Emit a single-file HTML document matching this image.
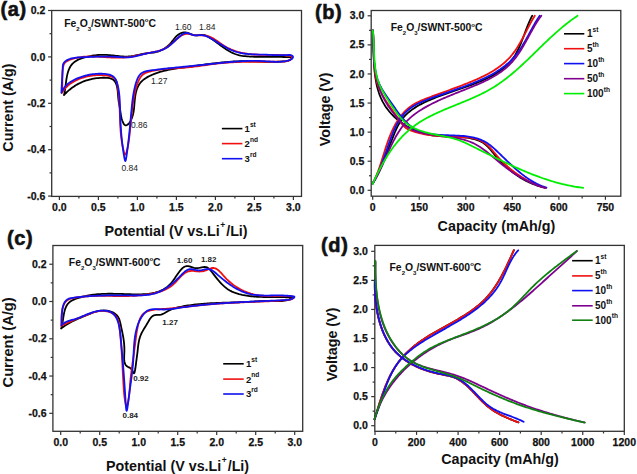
<!DOCTYPE html>
<html><head><meta charset="utf-8"><style>
html,body{margin:0;padding:0;background:#fff;width:637px;height:474px;overflow:hidden}
svg{display:block}
text{font-family:"Liberation Sans", sans-serif;fill:#111}
.tk{font-size:10.5px;font-weight:bold;stroke:#111;stroke-width:0.25px}
.an{font-size:8.5px;fill:#222}
.anb{font-size:8px;font-weight:bold;fill:#222}
.fe{font-size:10.4px;font-weight:bold}
.sub{font-size:6px}
.deg{font-size:6px}
.lg{font-size:10.2px;font-weight:bold}
.sup{font-size:6.6px}
.pl{font-size:20px;font-weight:bold;stroke:#111;stroke-width:0.6px;letter-spacing:0.6px}
.at{font-size:14.3px;font-weight:bold}
.asup{font-size:8.5px}
</style></head><body>
<svg width="637" height="474" viewBox="0 0 637 474">
<rect width="637" height="474" fill="#fff"/>
<rect x="51.7" y="10.5" width="249.8" height="185.9" fill="none" stroke="#333" stroke-width="1.3"/>
<line x1="59.40" y1="196.4" x2="59.40" y2="200.0" stroke="#333" stroke-width="1.2"/>
<line x1="98.40" y1="196.4" x2="98.40" y2="200.0" stroke="#333" stroke-width="1.2"/>
<line x1="137.40" y1="196.4" x2="137.40" y2="200.0" stroke="#333" stroke-width="1.2"/>
<line x1="176.40" y1="196.4" x2="176.40" y2="200.0" stroke="#333" stroke-width="1.2"/>
<line x1="215.40" y1="196.4" x2="215.40" y2="200.0" stroke="#333" stroke-width="1.2"/>
<line x1="254.40" y1="196.4" x2="254.40" y2="200.0" stroke="#333" stroke-width="1.2"/>
<line x1="293.40" y1="196.4" x2="293.40" y2="200.0" stroke="#333" stroke-width="1.2"/>
<line x1="78.90" y1="196.4" x2="78.90" y2="198.6" stroke="#333" stroke-width="1.2"/>
<line x1="117.90" y1="196.4" x2="117.90" y2="198.6" stroke="#333" stroke-width="1.2"/>
<line x1="156.90" y1="196.4" x2="156.90" y2="198.6" stroke="#333" stroke-width="1.2"/>
<line x1="195.90" y1="196.4" x2="195.90" y2="198.6" stroke="#333" stroke-width="1.2"/>
<line x1="234.90" y1="196.4" x2="234.90" y2="198.6" stroke="#333" stroke-width="1.2"/>
<line x1="273.90" y1="196.4" x2="273.90" y2="198.6" stroke="#333" stroke-width="1.2"/>
<text x="59.40" y="211.0" text-anchor="middle" class="tk">0.0</text>
<text x="98.40" y="211.0" text-anchor="middle" class="tk">0.5</text>
<text x="137.40" y="211.0" text-anchor="middle" class="tk">1.0</text>
<text x="176.40" y="211.0" text-anchor="middle" class="tk">1.5</text>
<text x="215.40" y="211.0" text-anchor="middle" class="tk">2.0</text>
<text x="254.40" y="211.0" text-anchor="middle" class="tk">2.5</text>
<text x="293.40" y="211.0" text-anchor="middle" class="tk">3.0</text>
<line x1="51.7" y1="10.50" x2="48.1" y2="10.50" stroke="#333" stroke-width="1.2"/>
<line x1="51.7" y1="56.90" x2="48.1" y2="56.90" stroke="#333" stroke-width="1.2"/>
<line x1="51.7" y1="103.30" x2="48.1" y2="103.30" stroke="#333" stroke-width="1.2"/>
<line x1="51.7" y1="149.70" x2="48.1" y2="149.70" stroke="#333" stroke-width="1.2"/>
<line x1="51.7" y1="196.10" x2="48.1" y2="196.10" stroke="#333" stroke-width="1.2"/>
<line x1="51.7" y1="33.70" x2="49.5" y2="33.70" stroke="#333" stroke-width="1.2"/>
<line x1="51.7" y1="80.10" x2="49.5" y2="80.10" stroke="#333" stroke-width="1.2"/>
<line x1="51.7" y1="126.50" x2="49.5" y2="126.50" stroke="#333" stroke-width="1.2"/>
<line x1="51.7" y1="172.90" x2="49.5" y2="172.90" stroke="#333" stroke-width="1.2"/>
<text x="45.3" y="14.10" text-anchor="end" class="tk">0.2</text>
<text x="45.3" y="60.50" text-anchor="end" class="tk">0.0</text>
<text x="45.3" y="106.90" text-anchor="end" class="tk">-0.2</text>
<text x="45.3" y="153.30" text-anchor="end" class="tk">-0.4</text>
<text x="45.3" y="199.70" text-anchor="end" class="tk">-0.6</text>
<path d="M63.98,94.87 L64.31,93.53 L64.61,92.15 L64.87,90.72 L65.10,89.25 L65.31,87.75 L65.51,86.22 L65.71,84.67 L65.91,83.11 L66.11,81.55 L66.33,79.98 L66.57,78.42 L66.84,76.88 L67.14,75.35 L67.49,73.85 L67.89,72.38 L68.34,70.96 L68.85,69.57 L69.44,68.24 L70.10,66.97 L70.85,65.77 L71.68,64.63 L72.61,63.58 L73.65,62.61 L74.79,61.72 L76.01,60.91 L77.32,60.18 L78.69,59.51 L80.11,58.91 L81.58,58.36 L83.08,57.87 L84.61,57.42 L86.14,57.02 L87.67,56.66 L89.20,56.32 L90.70,56.02 L92.20,55.75 L93.69,55.51 L95.17,55.30 L96.64,55.13 L98.11,54.99 L99.58,54.89 L101.05,54.82 L102.53,54.80 L104.01,54.81 L105.50,54.86 L106.99,54.94 L108.49,55.06 L110.00,55.19 L111.51,55.35 L113.02,55.51 L114.54,55.69 L116.06,55.86 L117.58,56.02 L119.09,56.17 L120.61,56.31 L122.12,56.42 L123.63,56.50 L125.14,56.54 L126.64,56.54 L128.13,56.50 L129.62,56.40 L131.10,56.24 L132.57,56.03 L134.03,55.78 L135.49,55.49 L136.95,55.18 L138.42,54.86 L139.89,54.53 L141.36,54.22 L142.84,53.92 L144.34,53.66 L145.85,53.43 L147.36,53.23 L148.89,53.06 L150.41,52.89 L151.93,52.71 L153.44,52.50 L154.93,52.25 L156.40,51.94 L157.85,51.56 L159.26,51.10 L160.63,50.54 L161.98,49.91 L163.28,49.19 L164.55,48.41 L165.78,47.55 L166.97,46.63 L168.12,45.65 L169.23,44.61 L170.30,43.52 L171.33,42.38 L172.31,41.20 L173.27,40.00 L174.21,38.79 L175.18,37.60 L176.20,36.47 L177.30,35.43 L178.50,34.49 L179.77,33.69 L181.10,33.05 L182.48,32.59 L183.89,32.35 L185.32,32.35 L186.74,32.60 L188.15,33.05 L189.57,33.62 L191.00,34.22 L192.45,34.75 L193.93,35.12 L195.43,35.29 L196.95,35.28 L198.47,35.18 L200.00,35.03 L201.50,34.93 L202.97,34.93 L204.41,35.10 L205.79,35.51 L207.12,36.14 L208.42,36.89 L209.71,37.67 L210.99,38.49 L212.25,39.34 L213.50,40.21 L214.75,41.10 L215.99,42.00 L217.23,42.92 L218.47,43.83 L219.70,44.75 L220.94,45.66 L222.18,46.56 L223.42,47.45 L224.67,48.32 L225.93,49.17 L227.21,49.98 L228.49,50.76 L229.79,51.51 L231.10,52.21 L232.43,52.87 L233.78,53.47 L235.15,54.02 L236.54,54.50 L237.96,54.92 L239.40,55.28 L240.86,55.59 L242.33,55.84 L243.82,56.05 L245.33,56.22 L246.84,56.36 L248.36,56.47 L249.88,56.56 L251.41,56.63 L252.94,56.69 L254.46,56.74 L255.98,56.78 L257.51,56.82 L259.03,56.84 L260.55,56.86 L262.07,56.88 L263.60,56.89 L265.12,56.89 L266.63,56.90 L268.15,56.90 L269.67,56.90 L271.19,56.90 L272.70,56.90 L274.22,56.90 L275.73,56.90 L277.25,56.91 L278.76,56.92 L280.28,56.93 L281.79,56.95 L283.30,56.98 L284.81,57.01 L286.32,57.05 L287.83,57.10 L289.34,57.16 L290.74,57.28 L291.66,57.59 L291.72,58.24 L291.02,59.11 L289.86,59.93 L288.50,60.53 L287.02,60.92 L285.47,61.16 L283.89,61.33 L282.31,61.47 L280.74,61.59 L279.18,61.68 L277.62,61.75 L276.07,61.81 L274.53,61.85 L272.99,61.87 L271.46,61.88 L269.93,61.87 L268.40,61.85 L266.88,61.82 L265.36,61.79 L263.85,61.74 L262.34,61.70 L260.83,61.64 L259.33,61.59 L257.82,61.53 L256.32,61.47 L254.83,61.42 L253.33,61.36 L251.84,61.32 L250.34,61.27 L248.85,61.24 L247.36,61.21 L245.87,61.20 L244.37,61.20 L242.88,61.21 L241.39,61.23 L239.90,61.26 L238.40,61.31 L236.91,61.36 L235.42,61.43 L233.92,61.51 L232.43,61.59 L230.94,61.69 L229.44,61.80 L227.95,61.91 L226.45,62.04 L224.96,62.17 L223.46,62.31 L221.97,62.45 L220.47,62.61 L218.97,62.77 L217.48,62.93 L215.98,63.10 L214.48,63.28 L212.99,63.46 L211.49,63.65 L209.99,63.84 L208.49,64.03 L207.00,64.23 L205.50,64.43 L204.00,64.63 L202.50,64.83 L201.00,65.04 L199.50,65.25 L198.00,65.45 L196.50,65.66 L195.00,65.87 L193.49,66.08 L191.99,66.29 L190.49,66.50 L188.99,66.70 L187.48,66.91 L185.98,67.11 L184.48,67.31 L182.98,67.52 L181.47,67.73 L179.97,67.94 L178.48,68.15 L176.98,68.38 L175.49,68.61 L174.00,68.85 L172.51,69.11 L171.03,69.38 L169.55,69.66 L168.08,69.96 L166.61,70.27 L165.15,70.61 L163.70,70.96 L162.25,71.34 L160.81,71.74 L159.37,72.16 L157.95,72.62 L156.53,73.09 L155.12,73.60 L153.72,74.14 L152.33,74.71 L150.95,75.32 L149.59,75.96 L148.25,76.64 L146.95,77.38 L145.68,78.16 L144.46,79.00 L143.29,79.90 L142.18,80.87 L141.15,81.91 L140.19,83.03 L139.31,84.22 L138.53,85.51 L137.84,86.87 L137.23,88.30 L136.71,89.78 L136.26,91.31 L135.87,92.86 L135.55,94.43 L135.27,96.00 L135.05,97.56 L134.86,99.09 L134.71,100.60 L134.58,102.08 L134.46,103.55 L134.35,105.00 L134.22,106.45 L134.08,107.89 L133.92,109.33 L133.72,110.77 L133.47,112.23 L133.17,113.70 L132.80,115.19 L132.36,116.70 L131.84,118.22 L131.21,119.73 L130.48,121.17 L129.62,122.52 L128.63,123.73 L127.52,124.72 L126.37,125.31 L125.28,125.31 L124.32,124.63 L123.49,123.44 L122.79,121.98 L122.22,120.45 L121.75,118.91 L121.38,117.37 L121.07,115.83 L120.81,114.31 L120.59,112.80 L120.37,111.31 L120.15,109.84 L119.91,108.40 L119.64,106.98 L119.37,105.57 L119.11,104.14 L118.86,102.69 L118.63,101.21 L118.44,99.68 L118.28,98.09 L118.14,96.47 L118.01,94.83 L117.88,93.18 L117.73,91.54 L117.55,89.93 L117.32,88.36 L117.03,86.84 L116.66,85.39 L116.21,84.03 L115.65,82.77 L114.98,81.63 L114.17,80.62 L113.23,79.76 L112.12,79.06 L110.86,78.54 L109.45,78.17 L107.94,77.93 L106.35,77.80 L104.72,77.75 L103.08,77.76 L101.46,77.82 L99.86,77.91 L98.28,78.04 L96.72,78.21 L95.19,78.41 L93.67,78.66 L92.17,78.94 L90.70,79.26 L89.24,79.62 L87.81,80.02 L86.39,80.46 L84.99,80.93 L83.61,81.44 L82.25,82.00 L80.91,82.59 L79.59,83.22 L78.29,83.89 L77.00,84.60 L75.73,85.35 L74.48,86.13 L73.25,86.96 L72.03,87.83 L70.83,88.74 L69.65,89.68 L68.48,90.67 L67.33,91.69 L66.19,92.76 L65.08,93.87 L63.97,95.01" fill="none" stroke="#000" stroke-width="1.8" stroke-linejoin="round" stroke-linecap="round"/>
<path d="M61.79,92.99 L61.98,91.50 L62.12,90.01 L62.22,88.51 L62.29,87.02 L62.32,85.52 L62.34,84.02 L62.34,82.52 L62.34,81.02 L62.33,79.51 L62.33,78.00 L62.34,76.49 L62.37,74.96 L62.43,73.44 L62.52,71.91 L62.65,70.37 L62.83,68.83 L63.07,67.28 L63.39,65.75 L63.87,64.33 L64.58,63.09 L65.59,62.10 L66.80,61.31 L68.12,60.63 L69.46,60.02 L70.83,59.48 L72.22,58.98 L73.63,58.54 L75.06,58.15 L76.50,57.82 L77.96,57.52 L79.43,57.27 L80.92,57.06 L82.42,56.89 L83.93,56.76 L85.44,56.66 L86.97,56.58 L88.50,56.54 L90.04,56.52 L91.58,56.53 L93.12,56.55 L94.67,56.59 L96.21,56.65 L97.75,56.72 L99.30,56.80 L100.83,56.88 L102.36,56.97 L103.89,57.07 L105.41,57.16 L106.93,57.25 L108.44,57.34 L109.95,57.43 L111.46,57.50 L112.96,57.57 L114.46,57.62 L115.95,57.66 L117.45,57.68 L118.93,57.68 L120.42,57.67 L121.90,57.63 L123.38,57.56 L124.85,57.47 L126.32,57.35 L127.79,57.20 L129.26,57.02 L130.73,56.80 L132.19,56.55 L133.65,56.27 L135.11,55.96 L136.57,55.64 L138.04,55.31 L139.50,54.97 L140.97,54.62 L142.45,54.28 L143.93,53.95 L145.42,53.64 L146.91,53.34 L148.41,53.05 L149.91,52.77 L151.40,52.49 L152.89,52.19 L154.38,51.89 L155.85,51.56 L157.31,51.20 L158.75,50.80 L160.17,50.37 L161.57,49.88 L162.94,49.34 L164.28,48.73 L165.59,48.06 L166.86,47.31 L168.10,46.48 L169.31,45.58 L170.49,44.63 L171.65,43.63 L172.81,42.61 L173.95,41.57 L175.10,40.53 L176.26,39.51 L177.43,38.51 L178.62,37.55 L179.84,36.64 L181.09,35.81 L182.38,35.07 L183.70,34.46 L185.05,34.02 L186.43,33.77 L187.83,33.76 L189.25,33.97 L190.70,34.30 L192.16,34.68 L193.65,35.00 L195.16,35.20 L196.68,35.31 L198.20,35.35 L199.73,35.36 L201.25,35.36 L202.75,35.39 L204.24,35.48 L205.69,35.65 L207.12,35.93 L208.51,36.33 L209.87,36.84 L211.21,37.43 L212.53,38.10 L213.83,38.84 L215.11,39.64 L216.39,40.48 L217.66,41.34 L218.93,42.23 L220.19,43.13 L221.46,44.02 L222.74,44.89 L224.03,45.74 L225.34,46.54 L226.66,47.30 L228.00,48.01 L229.36,48.68 L230.73,49.30 L232.11,49.88 L233.51,50.42 L234.92,50.92 L236.34,51.38 L237.78,51.81 L239.22,52.20 L240.68,52.56 L242.14,52.88 L243.61,53.18 L245.08,53.45 L246.57,53.68 L248.06,53.90 L249.55,54.08 L251.05,54.25 L252.55,54.39 L254.05,54.51 L255.55,54.62 L257.06,54.70 L258.56,54.77 L260.06,54.83 L261.56,54.87 L263.06,54.90 L264.56,54.92 L266.05,54.93 L267.54,54.94 L269.03,54.94 L270.52,54.94 L272.01,54.94 L273.51,54.94 L275.01,54.95 L276.53,54.97 L278.05,55.00 L279.58,55.04 L281.13,55.10 L282.69,55.17 L284.27,55.27 L285.87,55.39 L287.48,55.53 L289.08,55.71 L290.51,55.98 L291.59,56.39 L292.13,56.99 L292.01,57.83 L291.30,58.79 L290.17,59.76 L288.79,60.59 L287.30,61.16 L285.79,61.45 L284.27,61.57 L282.74,61.62 L281.22,61.65 L279.69,61.67 L278.17,61.69 L276.65,61.71 L275.13,61.72 L273.61,61.73 L272.09,61.74 L270.58,61.75 L269.07,61.75 L267.55,61.76 L266.04,61.76 L264.53,61.76 L263.02,61.76 L261.51,61.76 L260.01,61.76 L258.50,61.76 L257.00,61.76 L255.49,61.77 L253.99,61.77 L252.49,61.78 L250.99,61.79 L249.49,61.81 L247.99,61.82 L246.49,61.84 L244.99,61.87 L243.49,61.90 L242.00,61.93 L240.50,61.97 L239.00,62.02 L237.51,62.07 L236.01,62.13 L234.52,62.20 L233.03,62.27 L231.53,62.35 L230.04,62.44 L228.54,62.53 L227.05,62.64 L225.56,62.75 L224.06,62.87 L222.57,63.01 L221.08,63.15 L219.59,63.31 L218.09,63.47 L216.60,63.64 L215.11,63.83 L213.61,64.02 L212.12,64.21 L210.62,64.42 L209.13,64.62 L207.64,64.83 L206.14,65.04 L204.65,65.25 L203.15,65.46 L201.66,65.67 L200.16,65.88 L198.67,66.08 L197.17,66.28 L195.68,66.47 L194.18,66.66 L192.68,66.84 L191.19,67.01 L189.69,67.17 L188.19,67.32 L186.69,67.45 L185.19,67.58 L183.70,67.69 L182.20,67.80 L180.70,67.91 L179.20,68.00 L177.70,68.10 L176.20,68.19 L174.71,68.29 L173.21,68.39 L171.71,68.49 L170.21,68.60 L168.72,68.71 L167.22,68.84 L165.73,68.97 L164.23,69.12 L162.74,69.28 L161.25,69.46 L159.76,69.65 L158.27,69.87 L156.78,70.10 L155.29,70.36 L153.80,70.64 L152.32,70.95 L150.84,71.28 L149.36,71.65 L147.89,72.05 L146.46,72.54 L145.10,73.12 L143.82,73.85 L142.66,74.74 L141.63,75.81 L140.71,77.01 L139.88,78.31 L139.14,79.67 L138.46,81.06 L137.85,82.46 L137.28,83.87 L136.77,85.30 L136.30,86.73 L135.88,88.18 L135.49,89.63 L135.14,91.09 L134.81,92.55 L134.51,94.02 L134.23,95.50 L133.96,96.97 L133.71,98.45 L133.47,99.93 L133.24,101.41 L133.02,102.90 L132.81,104.38 L132.61,105.87 L132.43,107.36 L132.24,108.85 L132.07,110.34 L131.90,111.83 L131.74,113.32 L131.58,114.82 L131.43,116.31 L131.28,117.81 L131.13,119.30 L130.99,120.80 L130.84,122.29 L130.70,123.79 L130.55,125.29 L130.41,126.78 L130.26,128.28 L130.11,129.77 L129.95,131.27 L129.79,132.76 L129.63,134.25 L129.46,135.75 L129.28,137.24 L129.09,138.74 L128.88,140.24 L128.66,141.75 L128.42,143.27 L128.16,144.80 L127.86,146.35 L127.54,147.92 L127.19,149.50 L126.80,151.11 L126.38,152.64 L125.93,153.89 L125.48,154.62 L125.02,154.63 L124.58,153.92 L124.15,152.71 L123.73,151.21 L123.35,149.62 L122.99,148.03 L122.67,146.46 L122.37,144.89 L122.09,143.33 L121.84,141.77 L121.60,140.23 L121.40,138.68 L121.21,137.15 L121.03,135.62 L120.88,134.09 L120.74,132.57 L120.62,131.06 L120.51,129.55 L120.41,128.04 L120.33,126.54 L120.25,125.05 L120.18,123.55 L120.12,122.06 L120.06,120.57 L120.01,119.09 L119.96,117.61 L119.91,116.13 L119.87,114.65 L119.82,113.17 L119.77,111.70 L119.72,110.22 L119.66,108.75 L119.60,107.28 L119.53,105.81 L119.45,104.33 L119.36,102.85 L119.27,101.37 L119.16,99.88 L119.04,98.39 L118.91,96.89 L118.77,95.38 L118.61,93.87 L118.43,92.34 L118.24,90.80 L118.03,89.25 L117.80,87.69 L117.55,86.12 L117.28,84.53 L116.95,82.97 L116.51,81.50 L115.92,80.18 L115.14,79.04 L114.16,78.10 L113.02,77.34 L111.74,76.74 L110.35,76.28 L108.87,75.92 L107.34,75.66 L105.78,75.47 L104.22,75.33 L102.67,75.23 L101.13,75.17 L99.59,75.14 L98.07,75.16 L96.56,75.22 L95.06,75.31 L93.57,75.45 L92.09,75.62 L90.61,75.84 L89.14,76.10 L87.69,76.39 L86.23,76.73 L84.79,77.11 L83.35,77.53 L81.92,77.99 L80.50,78.49 L79.09,79.03 L77.69,79.61 L76.31,80.24 L74.95,80.92 L73.61,81.64 L72.31,82.41 L71.04,83.23 L69.80,84.10 L68.61,85.02 L67.47,85.99 L66.37,87.02 L65.33,88.10 L64.35,89.24 L63.42,90.44 L62.57,91.69 L61.78,93.01" fill="none" stroke="#f01010" stroke-width="1.8" stroke-linejoin="round" stroke-linecap="round"/>
<path d="M61.40,92.50 L61.47,90.97 L61.55,89.46 L61.63,87.95 L61.71,86.46 L61.80,84.98 L61.89,83.51 L61.98,82.03 L62.07,80.56 L62.16,79.08 L62.25,77.60 L62.33,76.11 L62.41,74.61 L62.49,73.10 L62.56,71.58 L62.63,70.03 L62.68,68.47 L62.74,66.89 L62.89,65.34 L63.27,63.89 L63.99,62.62 L65.03,61.54 L66.28,60.63 L67.60,59.87 L68.97,59.24 L70.37,58.74 L71.81,58.33 L73.27,58.02 L74.75,57.79 L76.25,57.62 L77.76,57.50 L79.28,57.41 L80.81,57.34 L82.33,57.27 L83.85,57.21 L85.36,57.14 L86.88,57.07 L88.38,57.00 L89.89,56.94 L91.39,56.87 L92.90,56.81 L94.40,56.76 L95.90,56.70 L97.39,56.66 L98.89,56.62 L100.39,56.58 L101.89,56.56 L103.38,56.54 L104.88,56.53 L106.38,56.53 L107.88,56.55 L109.39,56.58 L110.89,56.61 L112.40,56.67 L113.91,56.73 L115.42,56.82 L116.94,56.91 L118.46,57.02 L119.97,57.12 L121.49,57.21 L123.00,57.28 L124.51,57.32 L126.02,57.34 L127.51,57.31 L129.00,57.23 L130.48,57.10 L131.95,56.90 L133.41,56.66 L134.86,56.37 L136.31,56.04 L137.76,55.69 L139.20,55.32 L140.66,54.95 L142.11,54.57 L143.58,54.20 L145.05,53.84 L146.54,53.51 L148.04,53.21 L149.54,52.91 L151.04,52.62 L152.54,52.33 L154.04,52.03 L155.52,51.71 L157.00,51.37 L158.45,51.00 L159.89,50.59 L161.30,50.13 L162.69,49.63 L164.04,49.06 L165.35,48.42 L166.63,47.71 L167.86,46.92 L169.06,46.06 L170.23,45.12 L171.37,44.14 L172.49,43.12 L173.60,42.06 L174.71,40.99 L175.83,39.91 L176.96,38.83 L178.10,37.76 L179.27,36.72 L180.47,35.72 L181.71,34.78 L182.99,33.97 L184.30,33.35 L185.63,33.00 L186.99,32.96 L188.38,33.27 L189.79,33.80 L191.23,34.41 L192.70,34.94 L194.20,35.25 L195.72,35.32 L197.26,35.25 L198.79,35.13 L200.30,35.06 L201.78,35.12 L203.24,35.32 L204.66,35.65 L206.07,36.09 L207.45,36.63 L208.81,37.25 L210.15,37.94 L211.48,38.68 L212.80,39.46 L214.11,40.26 L215.42,41.06 L216.72,41.87 L218.02,42.68 L219.31,43.49 L220.61,44.28 L221.91,45.07 L223.21,45.84 L224.52,46.59 L225.83,47.32 L227.16,48.03 L228.49,48.71 L229.83,49.36 L231.19,49.97 L232.56,50.54 L233.94,51.08 L235.34,51.56 L236.77,52.00 L238.21,52.40 L239.66,52.75 L241.13,53.05 L242.62,53.32 L244.11,53.55 L245.62,53.75 L247.13,53.92 L248.65,54.07 L250.18,54.19 L251.71,54.29 L253.24,54.37 L254.77,54.44 L256.30,54.49 L257.83,54.53 L259.35,54.57 L260.86,54.61 L262.37,54.64 L263.87,54.68 L265.36,54.72 L266.84,54.77 L268.31,54.82 L269.77,54.88 L271.24,54.93 L272.70,54.98 L274.18,55.03 L275.65,55.07 L277.14,55.11 L278.64,55.13 L280.16,55.14 L281.70,55.15 L283.25,55.13 L284.83,55.10 L286.44,55.05 L288.07,54.99 L289.67,55.01 L291.13,55.24 L292.36,55.83 L293.03,56.80 L292.74,57.98 L291.75,59.06 L290.42,59.79 L288.95,60.29 L287.44,60.69 L285.94,61.02 L284.43,61.28 L282.93,61.48 L281.42,61.63 L279.92,61.73 L278.42,61.78 L276.91,61.80 L275.41,61.78 L273.91,61.73 L272.40,61.67 L270.90,61.58 L269.40,61.49 L267.89,61.39 L266.39,61.28 L264.89,61.19 L263.38,61.10 L261.88,61.03 L260.38,60.97 L258.87,60.93 L257.37,60.90 L255.86,60.88 L254.36,60.87 L252.85,60.87 L251.35,60.88 L249.84,60.91 L248.34,60.94 L246.83,60.99 L245.33,61.04 L243.82,61.10 L242.32,61.18 L240.81,61.26 L239.31,61.34 L237.80,61.44 L236.30,61.54 L234.79,61.65 L233.29,61.77 L231.79,61.89 L230.28,62.02 L228.78,62.15 L227.28,62.29 L225.77,62.43 L224.27,62.58 L222.77,62.73 L221.27,62.88 L219.77,63.04 L218.27,63.19 L216.77,63.36 L215.27,63.52 L213.77,63.68 L212.27,63.85 L210.78,64.01 L209.28,64.18 L207.78,64.34 L206.29,64.51 L204.79,64.67 L203.30,64.83 L201.80,64.99 L200.31,65.15 L198.82,65.31 L197.33,65.46 L195.84,65.61 L194.35,65.76 L192.86,65.91 L191.37,66.05 L189.88,66.20 L188.39,66.34 L186.90,66.49 L185.41,66.63 L183.92,66.77 L182.43,66.92 L180.94,67.06 L179.45,67.20 L177.96,67.35 L176.47,67.50 L174.97,67.65 L173.48,67.80 L171.98,67.95 L170.48,68.10 L168.99,68.26 L167.49,68.42 L165.98,68.58 L164.48,68.75 L162.97,68.92 L161.46,69.09 L159.95,69.27 L158.44,69.45 L156.93,69.63 L155.41,69.83 L153.89,70.02 L152.37,70.22 L150.84,70.43 L149.31,70.65 L147.80,70.89 L146.32,71.19 L144.90,71.57 L143.55,72.06 L142.31,72.69 L141.19,73.49 L140.18,74.45 L139.29,75.55 L138.49,76.77 L137.79,78.09 L137.16,79.50 L136.60,80.97 L136.10,82.48 L135.65,84.02 L135.23,85.56 L134.85,87.10 L134.49,88.63 L134.16,90.15 L133.86,91.67 L133.58,93.18 L133.32,94.69 L133.08,96.19 L132.86,97.69 L132.66,99.18 L132.47,100.67 L132.30,102.15 L132.13,103.63 L131.98,105.11 L131.83,106.58 L131.69,108.05 L131.55,109.52 L131.41,110.98 L131.28,112.45 L131.14,113.91 L131.01,115.37 L130.88,116.82 L130.74,118.28 L130.61,119.74 L130.48,121.21 L130.34,122.67 L130.20,124.13 L130.06,125.60 L129.92,127.08 L129.78,128.56 L129.64,130.04 L129.49,131.53 L129.33,133.02 L129.18,134.52 L129.02,136.03 L128.85,137.55 L128.69,139.08 L128.51,140.61 L128.33,142.16 L128.15,143.71 L127.96,145.28 L127.76,146.86 L127.56,148.45 L127.34,150.05 L127.13,151.67 L126.90,153.30 L126.67,154.95 L126.42,156.61 L126.17,158.19 L125.91,159.55 L125.65,160.52 L125.37,160.94 L125.09,160.70 L124.80,159.86 L124.51,158.60 L124.23,157.06 L123.95,155.40 L123.69,153.75 L123.44,152.11 L123.20,150.49 L122.97,148.89 L122.75,147.29 L122.55,145.71 L122.35,144.15 L122.17,142.59 L122.00,141.05 L121.83,139.51 L121.68,137.99 L121.53,136.47 L121.39,134.96 L121.26,133.46 L121.14,131.97 L121.03,130.48 L120.92,129.00 L120.82,127.52 L120.73,126.05 L120.64,124.58 L120.56,123.11 L120.49,121.65 L120.42,120.18 L120.35,118.72 L120.29,117.25 L120.24,115.79 L120.19,114.32 L120.14,112.85 L120.09,111.38 L120.05,109.90 L120.01,108.42 L119.97,106.94 L119.92,105.45 L119.87,103.95 L119.81,102.45 L119.74,100.95 L119.66,99.44 L119.56,97.93 L119.44,96.42 L119.29,94.90 L119.12,93.37 L118.93,91.84 L118.70,90.31 L118.44,88.77 L118.14,87.23 L117.80,85.68 L117.42,84.14 L116.98,82.62 L116.45,81.17 L115.83,79.80 L115.09,78.55 L114.21,77.44 L113.18,76.51 L111.99,75.76 L110.68,75.17 L109.28,74.72 L107.80,74.38 L106.28,74.14 L104.74,73.96 L103.20,73.83 L101.68,73.75 L100.16,73.72 L98.64,73.73 L97.13,73.79 L95.63,73.89 L94.13,74.03 L92.64,74.22 L91.16,74.44 L89.68,74.70 L88.21,75.00 L86.74,75.34 L85.28,75.72 L83.82,76.12 L82.37,76.56 L80.92,77.04 L79.49,77.54 L78.06,78.08 L76.65,78.66 L75.26,79.29 L73.90,79.95 L72.57,80.67 L71.28,81.44 L70.03,82.26 L68.82,83.13 L67.67,84.07 L66.57,85.07 L65.53,86.13 L64.55,87.27 L63.64,88.47 L62.81,89.75 L62.06,91.11 L61.39,92.55" fill="none" stroke="#1010f0" stroke-width="1.8" stroke-linejoin="round" stroke-linecap="round"/>
<text x="175" y="29.8" class="an">1.60</text>
<text x="199" y="29.8" class="an">1.84</text>
<text x="151" y="84.3" class="an">1.27</text>
<text x="131" y="127.9" class="an">0.86</text>
<text x="121.5" y="171.2" class="an">0.84</text>
<text x="64.2" y="27.0" class="fe">Fe<tspan class="sub" dy="3.7">2</tspan><tspan dy="-3.7">O</tspan><tspan class="sub" dy="3.7">3</tspan><tspan dy="-3.7">/SWNT-500</tspan><tspan class="deg" dy="-4.7">o</tspan><tspan dy="4.7">C</tspan></text>
<line x1="221.9" y1="128.6" x2="242.4" y2="128.6" stroke="#000" stroke-width="1.6"/>
<text x="244.6" y="132.00" class="lg" style="font-size:9.5px">1<tspan class="sup" dy="-5.2">st</tspan></text>
<line x1="221.9" y1="143.6" x2="242.4" y2="143.6" stroke="#f01010" stroke-width="1.6"/>
<text x="244.6" y="147.00" class="lg" style="font-size:9.5px">2<tspan class="sup" dy="-5.2">nd</tspan></text>
<line x1="221.9" y1="158.7" x2="242.4" y2="158.7" stroke="#1010f0" stroke-width="1.6"/>
<text x="244.6" y="162.10" class="lg" style="font-size:9.5px">3<tspan class="sup" dy="-5.2">rd</tspan></text>
<text x="0.6" y="16.1" class="pl">(a)</text>
<text x="176.1" y="236.1" text-anchor="middle" class="at">Potential (V vs.Li<tspan class="asup" dx="0.5" dy="-7.8">+</tspan><tspan dx="0.9" dy="7.8">/Li)</tspan></text>
<text transform="translate(13.2,107.6) rotate(-90)" text-anchor="middle" class="at">Current (A/g)</text>
<rect x="371.2" y="10.5" width="249.59999999999997" height="185.7" fill="none" stroke="#333" stroke-width="1.3"/>
<line x1="372.70" y1="196.2" x2="372.70" y2="199.79999999999998" stroke="#333" stroke-width="1.2"/>
<line x1="419.25" y1="196.2" x2="419.25" y2="199.79999999999998" stroke="#333" stroke-width="1.2"/>
<line x1="465.79" y1="196.2" x2="465.79" y2="199.79999999999998" stroke="#333" stroke-width="1.2"/>
<line x1="512.34" y1="196.2" x2="512.34" y2="199.79999999999998" stroke="#333" stroke-width="1.2"/>
<line x1="558.88" y1="196.2" x2="558.88" y2="199.79999999999998" stroke="#333" stroke-width="1.2"/>
<line x1="605.42" y1="196.2" x2="605.42" y2="199.79999999999998" stroke="#333" stroke-width="1.2"/>
<line x1="395.97" y1="196.2" x2="395.97" y2="198.39999999999998" stroke="#333" stroke-width="1.2"/>
<line x1="442.52" y1="196.2" x2="442.52" y2="198.39999999999998" stroke="#333" stroke-width="1.2"/>
<line x1="489.06" y1="196.2" x2="489.06" y2="198.39999999999998" stroke="#333" stroke-width="1.2"/>
<line x1="535.61" y1="196.2" x2="535.61" y2="198.39999999999998" stroke="#333" stroke-width="1.2"/>
<line x1="582.15" y1="196.2" x2="582.15" y2="198.39999999999998" stroke="#333" stroke-width="1.2"/>
<text x="372.70" y="210.9" text-anchor="middle" class="tk">0</text>
<text x="419.25" y="210.9" text-anchor="middle" class="tk">150</text>
<text x="465.79" y="210.9" text-anchor="middle" class="tk">300</text>
<text x="512.34" y="210.9" text-anchor="middle" class="tk">450</text>
<text x="558.88" y="210.9" text-anchor="middle" class="tk">600</text>
<text x="605.42" y="210.9" text-anchor="middle" class="tk">750</text>
<line x1="371.2" y1="190.30" x2="367.59999999999997" y2="190.30" stroke="#333" stroke-width="1.2"/>
<line x1="371.2" y1="161.22" x2="367.59999999999997" y2="161.22" stroke="#333" stroke-width="1.2"/>
<line x1="371.2" y1="132.13" x2="367.59999999999997" y2="132.13" stroke="#333" stroke-width="1.2"/>
<line x1="371.2" y1="103.05" x2="367.59999999999997" y2="103.05" stroke="#333" stroke-width="1.2"/>
<line x1="371.2" y1="73.96" x2="367.59999999999997" y2="73.96" stroke="#333" stroke-width="1.2"/>
<line x1="371.2" y1="44.88" x2="367.59999999999997" y2="44.88" stroke="#333" stroke-width="1.2"/>
<line x1="371.2" y1="15.79" x2="367.59999999999997" y2="15.79" stroke="#333" stroke-width="1.2"/>
<line x1="371.2" y1="175.76" x2="369.0" y2="175.76" stroke="#333" stroke-width="1.2"/>
<line x1="371.2" y1="146.67" x2="369.0" y2="146.67" stroke="#333" stroke-width="1.2"/>
<line x1="371.2" y1="117.59" x2="369.0" y2="117.59" stroke="#333" stroke-width="1.2"/>
<line x1="371.2" y1="88.50" x2="369.0" y2="88.50" stroke="#333" stroke-width="1.2"/>
<line x1="371.2" y1="59.42" x2="369.0" y2="59.42" stroke="#333" stroke-width="1.2"/>
<line x1="371.2" y1="30.33" x2="369.0" y2="30.33" stroke="#333" stroke-width="1.2"/>
<text x="364.4" y="193.90" text-anchor="end" class="tk">0.0</text>
<text x="364.4" y="164.81" text-anchor="end" class="tk">0.5</text>
<text x="364.4" y="135.73" text-anchor="end" class="tk">1.0</text>
<text x="364.4" y="106.65" text-anchor="end" class="tk">1.5</text>
<text x="364.4" y="77.56" text-anchor="end" class="tk">2.0</text>
<text x="364.4" y="48.48" text-anchor="end" class="tk">2.5</text>
<text x="364.4" y="19.39" text-anchor="end" class="tk">3.0</text>
<path d="M372.78,30.57 L372.88,31.93 L372.97,33.32 L373.05,34.72 L373.12,36.13 L373.18,37.56 L373.24,39.00 L373.29,40.46 L373.33,41.93 L373.37,43.42 L373.41,44.91 L373.45,46.41 L373.48,47.92 L373.52,49.45 L373.55,50.98 L373.59,52.51 L373.63,54.05 L373.68,55.60 L373.73,57.15 L373.79,58.71 L373.85,60.27 L373.93,61.83 L374.01,63.39 L374.10,64.95 L374.21,66.52 L374.33,68.08 L374.46,69.64 L374.60,71.19 L374.76,72.75 L374.94,74.30 L375.13,75.84 L375.35,77.38 L375.58,78.91 L375.83,80.43 L376.11,81.95 L376.40,83.46 L376.72,84.95 L377.07,86.44 L377.44,87.91 L377.84,89.37 L378.27,90.82 L378.72,92.26 L379.20,93.68 L379.72,95.08 L380.27,96.47 L380.85,97.84 L381.46,99.19 L382.11,100.53 L382.79,101.84 L383.51,103.14 L384.26,104.41 L385.04,105.67 L385.86,106.90 L386.71,108.11 L387.58,109.31 L388.49,110.48 L389.43,111.63 L390.39,112.75 L391.38,113.86 L392.40,114.94 L393.45,116.00 L394.52,117.03 L395.62,118.05 L396.74,119.03 L397.88,120.00 L399.04,120.94 L400.23,121.85 L401.44,122.74 L402.67,123.60 L403.92,124.44 L405.19,125.25 L406.48,126.04 L407.78,126.79 L409.10,127.52 L410.44,128.23 L411.79,128.90 L413.16,129.55 L414.54,130.17 L415.94,130.76 L417.35,131.32 L418.77,131.85 L420.20,132.36 L421.64,132.83 L423.09,133.27 L424.56,133.68 L426.02,134.06 L427.50,134.41 L428.99,134.73 L430.48,135.02 L431.97,135.27 L433.47,135.50 L434.98,135.69 L436.49,135.86 L438.00,136.00 L439.52,136.12 L441.04,136.22 L442.56,136.31 L444.08,136.39 L445.61,136.45 L447.13,136.50 L448.66,136.56 L450.19,136.60 L451.72,136.65 L453.25,136.70 L454.77,136.76 L456.30,136.82 L457.83,136.90 L459.35,136.99 L460.87,137.10 L462.39,137.22 L463.90,137.37 L465.42,137.54 L466.92,137.73 L468.43,137.96 L469.93,138.22 L471.42,138.51 L472.91,138.85 L474.39,139.22 L475.87,139.63 L477.33,140.10 L478.76,140.62 L480.15,141.21 L481.50,141.86 L482.78,142.59 L484.01,143.41 L485.17,144.29 L486.28,145.23 L487.35,146.24 L488.38,147.29 L489.38,148.38 L490.35,149.50 L491.31,150.65 L492.26,151.82 L493.20,152.99 L494.16,154.17 L495.12,155.34 L496.09,156.50 L497.09,157.65 L498.09,158.78 L499.12,159.90 L500.16,161.01 L501.21,162.11 L502.28,163.19 L503.36,164.26 L504.46,165.31 L505.57,166.34 L506.70,167.36 L507.84,168.36 L509.00,169.35 L510.16,170.32 L511.35,171.27 L512.54,172.20 L513.75,173.11 L514.98,174.01 L516.21,174.88 L517.46,175.73 L518.73,176.56 L520.00,177.37 L521.29,178.16 L522.59,178.93 L523.90,179.68 L525.23,180.40 L526.57,181.10 L527.92,181.77 L529.28,182.42 L530.65,183.04 L532.03,183.64 L533.43,184.22 L534.84,184.76 L536.25,185.28 L537.68,185.78 L539.12,186.24 L540.57,186.68 L542.04,187.09 L543.51,187.47 L544.99,187.82" fill="none" stroke="#000" stroke-width="1.8" stroke-linejoin="round" stroke-linecap="round"/>
<path d="M372.47,183.77 L373.25,182.46 L374.00,181.15 L374.74,179.83 L375.46,178.50 L376.17,177.17 L376.86,175.83 L377.54,174.48 L378.21,173.13 L378.86,171.78 L379.50,170.42 L380.14,169.05 L380.76,167.68 L381.37,166.30 L381.97,164.92 L382.56,163.53 L383.15,162.14 L383.73,160.75 L384.30,159.35 L384.87,157.94 L385.43,156.54 L385.99,155.13 L386.54,153.72 L387.09,152.30 L387.64,150.88 L388.19,149.46 L388.74,148.04 L389.29,146.61 L389.83,145.18 L390.38,143.75 L390.93,142.32 L391.49,140.89 L392.04,139.45 L392.61,138.01 L393.17,136.58 L393.74,135.14 L394.33,133.70 L394.92,132.27 L395.53,130.85 L396.15,129.44 L396.80,128.05 L397.47,126.68 L398.17,125.33 L398.90,124.00 L399.66,122.71 L400.46,121.45 L401.30,120.22 L402.18,119.03 L403.11,117.88 L404.07,116.77 L405.07,115.69 L406.10,114.64 L407.17,113.63 L408.27,112.65 L409.40,111.69 L410.56,110.77 L411.75,109.88 L412.96,109.02 L414.19,108.18 L415.45,107.37 L416.73,106.58 L418.03,105.81 L419.34,105.07 L420.67,104.35 L422.02,103.65 L423.37,102.97 L424.74,102.31 L426.12,101.66 L427.50,101.03 L428.89,100.41 L430.28,99.81 L431.68,99.22 L433.08,98.65 L434.47,98.08 L435.87,97.53 L437.27,96.98 L438.67,96.44 L440.07,95.91 L441.48,95.39 L442.88,94.88 L444.29,94.37 L445.70,93.86 L447.11,93.36 L448.52,92.87 L449.94,92.37 L451.35,91.88 L452.77,91.39 L454.20,90.90 L455.62,90.42 L457.05,89.93 L458.48,89.44 L459.92,88.94 L461.36,88.45 L462.80,87.95 L464.25,87.44 L465.70,86.93 L467.15,86.42 L468.61,85.90 L470.06,85.37 L471.52,84.83 L472.98,84.29 L474.44,83.73 L475.89,83.17 L477.34,82.60 L478.79,82.01 L480.23,81.41 L481.66,80.80 L483.09,80.18 L484.50,79.54 L485.91,78.89 L487.30,78.22 L488.68,77.54 L490.05,76.84 L491.40,76.12 L492.74,75.39 L494.06,74.63 L495.37,73.86 L496.65,73.07 L497.92,72.25 L499.16,71.42 L500.39,70.56 L501.58,69.68 L502.76,68.78 L503.91,67.85 L505.03,66.90 L506.13,65.92 L507.20,64.92 L508.24,63.89 L509.24,62.83 L510.22,61.74 L511.16,60.63 L512.07,59.49 L512.94,58.31 L513.78,57.11 L514.59,55.88 L515.37,54.62 L516.11,53.34 L516.83,52.03 L517.53,50.70 L518.20,49.36 L518.85,48.00 L519.48,46.62 L520.09,45.22 L520.69,43.82 L521.27,42.40 L521.84,40.97 L522.40,39.54 L522.96,38.10 L523.50,36.65 L524.04,35.21 L524.58,33.76 L525.12,32.32 L525.66,30.88 L526.20,29.44 L526.75,28.01 L527.31,26.58 L527.87,25.17 L528.44,23.77 L529.03,22.38 L529.63,21.00 L530.25,19.65 L530.88,18.31 L531.54,16.99 L532.22,15.69" fill="none" stroke="#000" stroke-width="1.8" stroke-linejoin="round" stroke-linecap="round"/>
<path d="M372.83,30.34 L373.00,31.78 L373.15,33.22 L373.27,34.68 L373.38,36.16 L373.47,37.64 L373.55,39.14 L373.61,40.64 L373.66,42.16 L373.70,43.68 L373.74,45.21 L373.77,46.74 L373.79,48.28 L373.81,49.83 L373.83,51.37 L373.86,52.93 L373.88,54.48 L373.91,56.04 L373.94,57.59 L373.99,59.15 L374.04,60.70 L374.11,62.25 L374.18,63.80 L374.28,65.34 L374.39,66.88 L374.52,68.42 L374.67,69.94 L374.84,71.47 L375.03,72.98 L375.26,74.48 L375.50,75.97 L375.78,77.46 L376.09,78.93 L376.43,80.39 L376.81,81.83 L377.22,83.27 L377.67,84.68 L378.16,86.08 L378.69,87.47 L379.26,88.84 L379.87,90.19 L380.51,91.54 L381.18,92.87 L381.88,94.18 L382.61,95.49 L383.37,96.79 L384.15,98.08 L384.95,99.36 L385.77,100.64 L386.60,101.91 L387.45,103.18 L388.32,104.44 L389.19,105.70 L390.07,106.95 L390.96,108.21 L391.85,109.47 L392.75,110.72 L393.64,111.98 L394.53,113.25 L395.42,114.51 L396.30,115.79 L397.17,117.06 L398.03,118.35 L398.88,119.63 L399.73,120.91 L400.59,122.17 L401.47,123.39 L402.39,124.56 L403.36,125.67 L404.39,126.70 L405.48,127.64 L406.66,128.47 L407.91,129.21 L409.22,129.85 L410.58,130.43 L411.98,130.95 L413.40,131.42 L414.82,131.87 L416.26,132.28 L417.70,132.67 L419.14,133.04 L420.59,133.38 L422.04,133.70 L423.50,134.00 L424.97,134.28 L426.44,134.54 L427.91,134.78 L429.39,135.00 L430.88,135.20 L432.37,135.39 L433.86,135.57 L435.36,135.72 L436.87,135.87 L438.38,136.00 L439.90,136.12 L441.42,136.23 L442.95,136.33 L444.48,136.43 L446.02,136.51 L447.56,136.59 L449.11,136.66 L450.67,136.72 L452.23,136.78 L453.80,136.84 L455.37,136.89 L456.95,136.95 L458.53,137.00 L460.12,137.05 L461.71,137.12 L463.29,137.19 L464.87,137.29 L466.44,137.41 L468.00,137.55 L469.54,137.72 L471.07,137.93 L472.57,138.19 L474.05,138.48 L475.50,138.83 L476.93,139.23 L478.32,139.69 L479.67,140.21 L480.99,140.81 L482.26,141.47 L483.49,142.21 L484.68,143.03 L485.83,143.91 L486.95,144.85 L488.03,145.84 L489.09,146.88 L490.13,147.95 L491.15,149.06 L492.16,150.20 L493.16,151.35 L494.15,152.52 L495.14,153.69 L496.13,154.87 L497.12,156.03 L498.13,157.18 L499.15,158.32 L500.18,159.43 L501.23,160.52 L502.28,161.60 L503.36,162.66 L504.44,163.70 L505.54,164.72 L506.65,165.73 L507.78,166.72 L508.92,167.70 L510.07,168.66 L511.24,169.60 L512.42,170.54 L513.62,171.45 L514.83,172.36 L516.06,173.25 L517.30,174.13 L518.56,174.99 L519.82,175.84 L521.11,176.68 L522.40,177.49 L523.71,178.29 L525.03,179.07 L526.36,179.83 L527.70,180.57 L529.05,181.28 L530.41,181.97 L531.79,182.64 L533.17,183.29 L534.56,183.91 L535.96,184.50 L537.37,185.06 L538.79,185.60 L540.21,186.11 L541.65,186.58 L543.09,187.03 L544.53,187.44 L545.99,187.82" fill="none" stroke="#f01010" stroke-width="1.8" stroke-linejoin="round" stroke-linecap="round"/>
<path d="M372.49,183.77 L373.19,182.45 L373.86,181.11 L374.51,179.77 L375.13,178.41 L375.74,177.04 L376.33,175.66 L376.90,174.27 L377.45,172.87 L377.99,171.46 L378.51,170.05 L379.02,168.63 L379.52,167.20 L380.01,165.76 L380.49,164.32 L380.96,162.88 L381.43,161.43 L381.89,159.98 L382.34,158.53 L382.80,157.07 L383.25,155.61 L383.70,154.15 L384.16,152.69 L384.61,151.23 L385.07,149.76 L385.54,148.30 L386.01,146.85 L386.49,145.39 L386.98,143.94 L387.47,142.49 L387.98,141.04 L388.51,139.60 L389.04,138.16 L389.59,136.73 L390.16,135.31 L390.75,133.89 L391.35,132.48 L391.98,131.08 L392.62,129.70 L393.28,128.32 L393.96,126.96 L394.67,125.62 L395.39,124.29 L396.14,122.99 L396.92,121.70 L397.71,120.43 L398.54,119.18 L399.38,117.96 L400.26,116.76 L401.16,115.59 L402.09,114.45 L403.05,113.33 L404.03,112.25 L405.05,111.20 L406.10,110.18 L407.18,109.19 L408.29,108.24 L409.43,107.33 L410.60,106.46 L411.81,105.62 L413.05,104.82 L414.32,104.06 L415.62,103.33 L416.94,102.63 L418.28,101.95 L419.64,101.30 L421.02,100.68 L422.42,100.07 L423.83,99.49 L425.24,98.91 L426.67,98.36 L428.11,97.81 L429.54,97.27 L430.98,96.74 L432.42,96.21 L433.86,95.69 L435.29,95.17 L436.73,94.65 L438.16,94.13 L439.59,93.61 L441.01,93.09 L442.44,92.58 L443.86,92.06 L445.29,91.54 L446.71,91.03 L448.13,90.51 L449.55,89.99 L450.97,89.47 L452.39,88.95 L453.80,88.43 L455.22,87.90 L456.64,87.37 L458.05,86.84 L459.47,86.30 L460.88,85.76 L462.30,85.22 L463.71,84.67 L465.13,84.12 L466.54,83.56 L467.96,83.00 L469.37,82.43 L470.78,81.85 L472.19,81.27 L473.60,80.68 L475.01,80.08 L476.40,79.47 L477.80,78.85 L479.19,78.22 L480.57,77.58 L481.94,76.93 L483.31,76.26 L484.67,75.58 L486.02,74.89 L487.35,74.19 L488.68,73.47 L490.00,72.73 L491.30,71.98 L492.59,71.21 L493.87,70.42 L495.13,69.62 L496.38,68.80 L497.61,67.96 L498.82,67.10 L500.02,66.22 L501.20,65.32 L502.36,64.39 L503.50,63.45 L504.63,62.48 L505.73,61.49 L506.80,60.47 L507.86,59.43 L508.89,58.37 L509.90,57.28 L510.89,56.16 L511.85,55.02 L512.78,53.85 L513.70,52.65 L514.59,51.43 L515.46,50.19 L516.31,48.94 L517.14,47.66 L517.95,46.37 L518.75,45.06 L519.54,43.74 L520.31,42.40 L521.07,41.06 L521.81,39.71 L522.55,38.35 L523.28,36.99 L524.00,35.62 L524.72,34.25 L525.43,32.88 L526.14,31.51 L526.84,30.14 L527.54,28.77 L528.25,27.41 L528.95,26.06 L529.66,24.72 L530.37,23.39 L531.08,22.07 L531.80,20.76 L532.53,19.47 L533.27,18.20 L534.02,16.94 L534.77,15.70" fill="none" stroke="#f01010" stroke-width="1.8" stroke-linejoin="round" stroke-linecap="round"/>
<path d="M372.94,30.29 L373.06,31.75 L373.16,33.22 L373.24,34.71 L373.32,36.20 L373.38,37.71 L373.43,39.22 L373.48,40.74 L373.52,42.26 L373.56,43.79 L373.59,45.32 L373.62,46.86 L373.66,48.40 L373.70,49.94 L373.74,51.49 L373.79,53.03 L373.85,54.57 L373.92,56.11 L374.00,57.65 L374.09,59.18 L374.20,60.71 L374.32,62.24 L374.47,63.76 L374.63,65.27 L374.81,66.77 L375.02,68.27 L375.26,69.75 L375.52,71.23 L375.81,72.69 L376.13,74.15 L376.48,75.58 L376.86,77.01 L377.28,78.42 L377.74,79.81 L378.24,81.19 L378.78,82.55 L379.36,83.89 L379.98,85.22 L380.64,86.53 L381.34,87.82 L382.07,89.10 L382.83,90.38 L383.62,91.64 L384.43,92.90 L385.26,94.15 L386.11,95.40 L386.97,96.65 L387.85,97.90 L388.73,99.16 L389.62,100.42 L390.51,101.69 L391.40,102.97 L392.29,104.25 L393.18,105.54 L394.08,106.83 L394.98,108.11 L395.88,109.40 L396.79,110.67 L397.71,111.94 L398.64,113.20 L399.58,114.44 L400.53,115.66 L401.49,116.86 L402.47,118.04 L403.46,119.19 L404.47,120.32 L405.50,121.41 L406.54,122.47 L407.61,123.49 L408.70,124.48 L409.81,125.42 L410.94,126.32 L412.10,127.17 L413.29,127.96 L414.50,128.71 L415.75,129.40 L417.02,130.04 L418.32,130.63 L419.64,131.17 L420.98,131.66 L422.35,132.11 L423.75,132.52 L425.16,132.89 L426.59,133.22 L428.04,133.52 L429.51,133.78 L430.99,134.02 L432.49,134.22 L434.00,134.40 L435.52,134.56 L437.05,134.70 L438.60,134.82 L440.15,134.92 L441.71,135.01 L443.28,135.08 L444.85,135.15 L446.42,135.21 L448.00,135.26 L449.58,135.31 L451.16,135.36 L452.74,135.41 L454.32,135.47 L455.90,135.53 L457.47,135.60 L459.03,135.69 L460.59,135.78 L462.14,135.89 L463.68,136.02 L465.21,136.17 L466.74,136.35 L468.24,136.55 L469.74,136.77 L471.22,137.03 L472.69,137.32 L474.14,137.65 L475.57,138.01 L476.99,138.41 L478.38,138.86 L479.75,139.35 L481.11,139.89 L482.44,140.48 L483.74,141.12 L485.02,141.81 L486.28,142.56 L487.51,143.36 L488.72,144.20 L489.92,145.08 L491.09,146.00 L492.25,146.95 L493.40,147.93 L494.53,148.93 L495.66,149.96 L496.77,151.00 L497.88,152.05 L498.99,153.11 L500.09,154.17 L501.18,155.23 L502.28,156.30 L503.38,157.37 L504.47,158.43 L505.57,159.49 L506.67,160.55 L507.76,161.61 L508.87,162.66 L509.97,163.70 L511.08,164.74 L512.19,165.78 L513.31,166.80 L514.43,167.81 L515.56,168.82 L516.70,169.81 L517.85,170.80 L519.00,171.77 L520.16,172.72 L521.34,173.66 L522.52,174.59 L523.72,175.50 L524.92,176.40 L526.14,177.27 L527.38,178.13 L528.62,178.97 L529.88,179.79 L531.16,180.58 L532.45,181.36 L533.76,182.11 L535.09,182.83 L536.43,183.54 L537.80,184.21 L539.18,184.86 L540.58,185.48 L542.00,186.08 L543.45,186.64 L544.91,187.18 L546.40,187.68" fill="none" stroke="#1010f0" stroke-width="1.8" stroke-linejoin="round" stroke-linecap="round"/>
<path d="M372.48,183.76 L373.25,182.47 L373.99,181.16 L374.72,179.84 L375.42,178.50 L376.10,177.16 L376.76,175.81 L377.41,174.45 L378.03,173.09 L378.64,171.71 L379.24,170.33 L379.82,168.93 L380.38,167.54 L380.94,166.13 L381.48,164.72 L382.02,163.30 L382.54,161.88 L383.06,160.46 L383.57,159.03 L384.07,157.59 L384.57,156.15 L385.07,154.71 L385.56,153.27 L386.06,151.82 L386.55,150.38 L387.04,148.93 L387.54,147.48 L388.04,146.03 L388.54,144.58 L389.04,143.13 L389.56,141.68 L390.08,140.23 L390.61,138.79 L391.15,137.34 L391.70,135.90 L392.26,134.47 L392.83,133.04 L393.42,131.61 L394.03,130.20 L394.66,128.80 L395.31,127.42 L395.98,126.05 L396.67,124.70 L397.40,123.37 L398.15,122.07 L398.93,120.78 L399.74,119.53 L400.59,118.31 L401.47,117.11 L402.38,115.95 L403.33,114.82 L404.31,113.72 L405.33,112.66 L406.38,111.63 L407.46,110.64 L408.57,109.68 L409.72,108.77 L410.90,107.89 L412.11,107.05 L413.36,106.24 L414.63,105.47 L415.93,104.74 L417.25,104.03 L418.59,103.35 L419.95,102.70 L421.33,102.06 L422.72,101.46 L424.12,100.86 L425.54,100.29 L426.96,99.73 L428.39,99.19 L429.82,98.65 L431.26,98.12 L432.69,97.60 L434.12,97.09 L435.55,96.58 L436.98,96.07 L438.41,95.57 L439.84,95.07 L441.27,94.57 L442.69,94.07 L444.12,93.58 L445.54,93.09 L446.97,92.60 L448.39,92.10 L449.82,91.61 L451.24,91.12 L452.67,90.63 L454.10,90.13 L455.52,89.63 L456.95,89.13 L458.38,88.62 L459.81,88.12 L461.24,87.60 L462.67,87.08 L464.10,86.56 L465.53,86.03 L466.97,85.49 L468.40,84.95 L469.84,84.40 L471.27,83.84 L472.71,83.27 L474.14,82.70 L475.57,82.11 L476.99,81.52 L478.41,80.91 L479.83,80.30 L481.24,79.67 L482.64,79.03 L484.04,78.38 L485.42,77.72 L486.80,77.04 L488.17,76.35 L489.53,75.65 L490.88,74.93 L492.22,74.19 L493.54,73.45 L494.85,72.68 L496.15,71.90 L497.43,71.10 L498.70,70.28 L499.96,69.45 L501.19,68.60 L502.41,67.73 L503.61,66.84 L504.79,65.93 L505.95,64.99 L507.09,64.04 L508.21,63.07 L509.31,62.08 L510.39,61.06 L511.44,60.02 L512.47,58.96 L513.47,57.88 L514.45,56.77 L515.40,55.63 L516.33,54.48 L517.24,53.30 L518.12,52.11 L518.99,50.89 L519.84,49.66 L520.67,48.41 L521.48,47.15 L522.28,45.87 L523.07,44.58 L523.85,43.28 L524.61,41.97 L525.36,40.65 L526.11,39.33 L526.85,38.00 L527.59,36.66 L528.32,35.32 L529.05,33.98 L529.78,32.63 L530.50,31.29 L531.23,29.95 L531.96,28.61 L532.70,27.27 L533.44,25.94 L534.19,24.62 L534.94,23.30 L535.70,22.00 L536.48,20.70 L537.26,19.41 L538.06,18.14 L538.88,16.88 L539.71,15.64" fill="none" stroke="#1010f0" stroke-width="1.8" stroke-linejoin="round" stroke-linecap="round"/>
<path d="M372.97,30.25 L372.99,31.78 L373.00,33.30 L373.02,34.82 L373.04,36.34 L373.06,37.86 L373.08,39.39 L373.10,40.91 L373.13,42.43 L373.16,43.95 L373.20,45.47 L373.24,46.99 L373.29,48.51 L373.34,50.02 L373.41,51.54 L373.48,53.05 L373.56,54.56 L373.65,56.07 L373.75,57.58 L373.86,59.08 L373.99,60.58 L374.12,62.08 L374.27,63.58 L374.44,65.07 L374.61,66.56 L374.81,68.04 L375.02,69.52 L375.24,71.00 L375.49,72.47 L375.75,73.93 L376.03,75.40 L376.33,76.85 L376.64,78.31 L376.98,79.75 L377.34,81.19 L377.73,82.63 L378.13,84.06 L378.56,85.48 L379.02,86.90 L379.50,88.31 L380.00,89.71 L380.53,91.11 L381.09,92.50 L381.67,93.88 L382.28,95.26 L382.93,96.62 L383.60,97.98 L384.30,99.33 L385.03,100.68 L385.79,102.01 L386.58,103.33 L387.39,104.65 L388.23,105.95 L389.10,107.24 L389.98,108.52 L390.88,109.79 L391.81,111.04 L392.75,112.28 L393.70,113.51 L394.67,114.72 L395.65,115.92 L396.65,117.10 L397.65,118.26 L398.67,119.40 L399.69,120.52 L400.74,121.61 L401.80,122.66 L402.89,123.67 L404.01,124.63 L405.15,125.53 L406.33,126.38 L407.54,127.17 L408.77,127.91 L410.04,128.60 L411.33,129.24 L412.64,129.83 L413.98,130.38 L415.34,130.89 L416.72,131.37 L418.12,131.81 L419.53,132.21 L420.97,132.58 L422.41,132.93 L423.87,133.25 L425.35,133.55 L426.83,133.82 L428.32,134.08 L429.82,134.32 L431.33,134.54 L432.84,134.76 L434.36,134.96 L435.88,135.16 L437.40,135.35 L438.93,135.54 L440.45,135.73 L441.98,135.91 L443.50,136.10 L445.03,136.29 L446.55,136.49 L448.07,136.69 L449.58,136.90 L451.09,137.12 L452.60,137.36 L454.10,137.60 L455.59,137.87 L457.08,138.15 L458.55,138.45 L460.02,138.77 L461.48,139.12 L462.93,139.49 L464.37,139.88 L465.79,140.31 L467.20,140.76 L468.60,141.25 L469.99,141.77 L471.35,142.33 L472.71,142.92 L474.04,143.56 L475.36,144.23 L476.66,144.95 L477.95,145.70 L479.22,146.48 L480.48,147.29 L481.73,148.14 L482.97,149.01 L484.19,149.90 L485.41,150.82 L486.61,151.75 L487.81,152.70 L489.01,153.66 L490.20,154.64 L491.38,155.63 L492.56,156.62 L493.74,157.61 L494.92,158.61 L496.10,159.61 L497.28,160.60 L498.46,161.59 L499.64,162.56 L500.83,163.53 L502.02,164.49 L503.22,165.44 L504.42,166.37 L505.63,167.29 L506.84,168.20 L508.05,169.10 L509.28,169.99 L510.51,170.86 L511.74,171.72 L512.98,172.56 L514.23,173.39 L515.49,174.21 L516.75,175.01 L518.02,175.80 L519.30,176.57 L520.59,177.33 L521.88,178.07 L523.19,178.79 L524.50,179.50 L525.83,180.19 L527.16,180.86 L528.50,181.52 L529.85,182.15 L531.22,182.77 L532.59,183.37 L533.98,183.95 L535.37,184.52 L536.78,185.06 L538.20,185.58 L539.63,186.09 L541.08,186.57 L542.53,187.03 L544.00,187.47 L545.48,187.89" fill="none" stroke="#800090" stroke-width="1.8" stroke-linejoin="round" stroke-linecap="round"/>
<path d="M372.59,183.81 L373.38,182.59 L374.14,181.34 L374.89,180.08 L375.62,178.80 L376.34,177.50 L377.05,176.19 L377.74,174.87 L378.43,173.53 L379.10,172.19 L379.76,170.83 L380.42,169.46 L381.07,168.08 L381.71,166.69 L382.35,165.30 L382.98,163.90 L383.61,162.49 L384.24,161.08 L384.86,159.67 L385.49,158.26 L386.11,156.84 L386.74,155.42 L387.36,154.01 L387.99,152.59 L388.63,151.18 L389.27,149.77 L389.92,148.36 L390.57,146.96 L391.23,145.57 L391.90,144.18 L392.58,142.80 L393.27,141.43 L393.97,140.07 L394.69,138.72 L395.41,137.38 L396.16,136.06 L396.92,134.74 L397.69,133.45 L398.48,132.17 L399.29,130.90 L400.12,129.65 L400.97,128.42 L401.85,127.21 L402.74,126.03 L403.66,124.86 L404.60,123.71 L405.56,122.59 L406.55,121.49 L407.57,120.42 L408.62,119.37 L409.69,118.35 L410.79,117.35 L411.92,116.38 L413.07,115.43 L414.25,114.51 L415.44,113.61 L416.66,112.73 L417.89,111.87 L419.14,111.03 L420.41,110.21 L421.70,109.41 L422.99,108.62 L424.30,107.86 L425.62,107.10 L426.95,106.37 L428.29,105.64 L429.64,104.94 L430.99,104.24 L432.35,103.55 L433.71,102.88 L435.07,102.22 L436.44,101.57 L437.81,100.92 L439.19,100.29 L440.57,99.66 L441.95,99.05 L443.34,98.44 L444.72,97.83 L446.12,97.24 L447.51,96.64 L448.91,96.06 L450.31,95.48 L451.71,94.90 L453.12,94.33 L454.52,93.75 L455.93,93.19 L457.35,92.62 L458.76,92.06 L460.18,91.49 L461.60,90.93 L463.02,90.36 L464.44,89.80 L465.87,89.23 L467.29,88.67 L468.72,88.10 L470.15,87.52 L471.57,86.94 L473.00,86.36 L474.42,85.77 L475.84,85.18 L477.25,84.58 L478.67,83.97 L480.07,83.35 L481.47,82.72 L482.86,82.08 L484.25,81.43 L485.63,80.77 L486.99,80.10 L488.35,79.41 L489.70,78.71 L491.03,77.99 L492.36,77.26 L493.67,76.52 L494.96,75.75 L496.24,74.97 L497.51,74.17 L498.76,73.35 L499.99,72.51 L501.21,71.65 L502.41,70.77 L503.59,69.86 L504.74,68.94 L505.88,67.98 L507.00,67.01 L508.09,66.01 L509.17,64.99 L510.22,63.94 L511.25,62.87 L512.25,61.78 L513.24,60.66 L514.19,59.52 L515.13,58.36 L516.04,57.17 L516.94,55.97 L517.81,54.74 L518.67,53.50 L519.51,52.24 L520.33,50.97 L521.15,49.68 L521.94,48.38 L522.73,47.07 L523.51,45.75 L524.27,44.42 L525.03,43.09 L525.78,41.75 L526.53,40.40 L527.27,39.05 L528.01,37.70 L528.75,36.35 L529.49,35.00 L530.22,33.65 L530.96,32.30 L531.71,30.96 L532.45,29.62 L533.21,28.29 L533.97,26.97 L534.74,25.66 L535.51,24.36 L536.30,23.07 L537.10,21.80 L537.92,20.54 L538.74,19.29 L539.59,18.07 L540.45,16.86 L541.33,15.67" fill="none" stroke="#800090" stroke-width="1.8" stroke-linejoin="round" stroke-linecap="round"/>
<path d="M372.79,30.50 L372.96,31.95 L373.11,33.41 L373.25,34.88 L373.37,36.36 L373.47,37.85 L373.56,39.35 L373.64,40.86 L373.71,42.37 L373.78,43.90 L373.84,45.42 L373.89,46.96 L373.95,48.49 L374.00,50.03 L374.06,51.57 L374.11,53.11 L374.18,54.66 L374.25,56.20 L374.33,57.74 L374.42,59.28 L374.52,60.81 L374.64,62.34 L374.78,63.87 L374.93,65.39 L375.10,66.90 L375.29,68.41 L375.51,69.90 L375.75,71.39 L376.02,72.87 L376.32,74.34 L376.64,75.79 L377.00,77.23 L377.40,78.67 L377.82,80.09 L378.29,81.49 L378.79,82.88 L379.33,84.26 L379.92,85.62 L380.54,86.98 L381.19,88.32 L381.87,89.65 L382.58,90.97 L383.31,92.28 L384.07,93.58 L384.85,94.89 L385.64,96.18 L386.45,97.48 L387.26,98.77 L388.09,100.06 L388.92,101.35 L389.75,102.64 L390.58,103.94 L391.42,105.23 L392.26,106.52 L393.11,107.80 L393.97,109.08 L394.83,110.34 L395.72,111.59 L396.61,112.82 L397.52,114.03 L398.45,115.22 L399.40,116.38 L400.37,117.52 L401.37,118.62 L402.39,119.70 L403.44,120.74 L404.51,121.74 L405.62,122.70 L406.76,123.62 L407.94,124.49 L409.15,125.32 L410.39,126.11 L411.66,126.85 L412.97,127.55 L414.30,128.21 L415.65,128.83 L417.03,129.42 L418.43,129.98 L419.84,130.50 L421.28,131.00 L422.73,131.47 L424.19,131.91 L425.66,132.33 L427.14,132.73 L428.63,133.10 L430.12,133.46 L431.62,133.80 L433.12,134.13 L434.62,134.44 L436.12,134.75 L437.62,135.05 L439.12,135.34 L440.61,135.63 L442.11,135.92 L443.59,136.22 L445.08,136.52 L446.56,136.83 L448.03,137.16 L449.50,137.49 L450.96,137.85 L452.41,138.22 L453.86,138.62 L455.30,139.04 L456.72,139.49 L458.14,139.97 L459.54,140.49 L460.94,141.02 L462.33,141.59 L463.71,142.18 L465.09,142.78 L466.45,143.41 L467.82,144.04 L469.18,144.70 L470.53,145.36 L471.89,146.02 L473.24,146.70 L474.59,147.37 L475.94,148.05 L477.29,148.72 L478.64,149.40 L479.99,150.08 L481.34,150.75 L482.70,151.43 L484.05,152.10 L485.40,152.78 L486.75,153.45 L488.10,154.13 L489.46,154.80 L490.81,155.47 L492.17,156.14 L493.52,156.81 L494.88,157.48 L496.24,158.15 L497.60,158.81 L498.96,159.47 L500.32,160.13 L501.69,160.79 L503.05,161.45 L504.42,162.10 L505.79,162.75 L507.16,163.40 L508.53,164.04 L509.91,164.68 L511.28,165.32 L512.66,165.95 L514.04,166.58 L515.42,167.21 L516.81,167.83 L518.19,168.44 L519.58,169.06 L520.97,169.66 L522.36,170.26 L523.76,170.86 L525.15,171.45 L526.55,172.03 L527.95,172.60 L529.36,173.17 L530.76,173.74 L532.17,174.30 L533.58,174.85 L534.99,175.39 L536.41,175.92 L537.82,176.45 L539.24,176.97 L540.66,177.48 L542.09,177.98 L543.52,178.48 L544.95,178.96 L546.38,179.44 L547.82,179.91 L549.26,180.37 L550.70,180.82 L552.14,181.25 L553.59,181.68 L555.04,182.10 L556.49,182.51 L557.95,182.91 L559.41,183.29 L560.87,183.67 L562.33,184.04 L563.80,184.39 L565.27,184.73 L566.75,185.06 L568.23,185.38 L569.71,185.68 L571.19,185.97 L572.68,186.25 L574.17,186.52 L575.67,186.77 L577.17,187.01 L578.67,187.24 L580.17,187.45 L581.68,187.65 L583.20,187.84" fill="none" stroke="#00ee00" stroke-width="1.8" stroke-linejoin="round" stroke-linecap="round"/>
<path d="M372.68,183.96 L373.28,182.58 L373.90,181.21 L374.52,179.83 L375.15,178.45 L375.79,177.08 L376.44,175.70 L377.11,174.33 L377.78,172.96 L378.46,171.59 L379.15,170.23 L379.85,168.87 L380.57,167.52 L381.29,166.17 L382.03,164.82 L382.77,163.48 L383.53,162.15 L384.30,160.83 L385.08,159.51 L385.87,158.20 L386.68,156.90 L387.49,155.60 L388.32,154.32 L389.16,153.04 L390.02,151.78 L390.88,150.53 L391.76,149.28 L392.65,148.05 L393.56,146.83 L394.47,145.63 L395.40,144.43 L396.35,143.25 L397.31,142.09 L398.28,140.93 L399.26,139.80 L400.26,138.68 L401.28,137.57 L402.30,136.48 L403.34,135.41 L404.40,134.35 L405.47,133.32 L406.56,132.30 L407.66,131.29 L408.78,130.31 L409.91,129.35 L411.05,128.41 L412.22,127.49 L413.39,126.59 L414.59,125.70 L415.79,124.84 L417.01,124.00 L418.25,123.17 L419.49,122.36 L420.75,121.57 L422.02,120.79 L423.30,120.03 L424.60,119.28 L425.90,118.54 L427.22,117.82 L428.54,117.12 L429.88,116.42 L431.22,115.74 L432.57,115.07 L433.93,114.40 L435.30,113.75 L436.67,113.11 L438.05,112.47 L439.44,111.85 L440.83,111.23 L442.23,110.62 L443.63,110.01 L445.04,109.41 L446.45,108.81 L447.86,108.22 L449.28,107.64 L450.70,107.05 L452.13,106.47 L453.55,105.89 L454.98,105.31 L456.40,104.74 L457.83,104.16 L459.26,103.58 L460.69,103.00 L462.11,102.42 L463.54,101.84 L464.96,101.26 L466.38,100.67 L467.80,100.07 L469.21,99.48 L470.62,98.87 L472.03,98.26 L473.43,97.65 L474.83,97.03 L476.22,96.40 L477.61,95.76 L478.99,95.11 L480.36,94.46 L481.73,93.79 L483.09,93.11 L484.44,92.42 L485.78,91.72 L487.12,91.01 L488.44,90.28 L489.76,89.54 L491.06,88.79 L492.35,88.02 L493.64,87.24 L494.91,86.44 L496.17,85.63 L497.42,84.80 L498.67,83.97 L499.90,83.11 L501.13,82.25 L502.34,81.37 L503.55,80.49 L504.75,79.59 L505.95,78.68 L507.13,77.76 L508.31,76.83 L509.48,75.89 L510.65,74.94 L511.80,73.98 L512.96,73.01 L514.10,72.04 L515.24,71.06 L516.38,70.07 L517.51,69.07 L518.63,68.06 L519.75,67.05 L520.87,66.03 L521.98,65.01 L523.09,63.98 L524.20,62.95 L525.30,61.91 L526.40,60.87 L527.50,59.83 L528.60,58.78 L529.69,57.73 L530.78,56.67 L531.87,55.62 L532.96,54.56 L534.05,53.50 L535.14,52.44 L536.23,51.38 L537.31,50.31 L538.40,49.25 L539.49,48.19 L540.58,47.13 L541.67,46.07 L542.76,45.01 L543.85,43.95 L544.95,42.90 L546.04,41.85 L547.14,40.80 L548.25,39.75 L549.35,38.71 L550.46,37.67 L551.57,36.64 L552.69,35.61 L553.81,34.59 L554.93,33.57 L556.06,32.56 L557.20,31.56 L558.34,30.56 L559.48,29.57 L560.63,28.59 L561.79,27.61 L562.95,26.64 L564.12,25.69 L565.30,24.74 L566.48,23.80 L567.67,22.87 L568.87,21.95 L570.08,21.04 L571.29,20.14 L572.52,19.25 L573.75,18.38 L574.99,17.51 L576.24,16.66 L577.50,15.82" fill="none" stroke="#00ee00" stroke-width="1.8" stroke-linejoin="round" stroke-linecap="round"/>
<text x="390.7" y="31.3" class="fe">Fe<tspan class="sub" dy="3.7">2</tspan><tspan dy="-3.7">O</tspan><tspan class="sub" dy="3.7">3</tspan><tspan dy="-3.7">/SWNT-500</tspan><tspan class="deg" dy="-4.7">o</tspan><tspan dy="4.7">C</tspan></text>
<line x1="564" y1="33.8" x2="584.3" y2="33.8" stroke="#000" stroke-width="1.6"/>
<text x="587" y="37.20" class="lg" style="font-size:10.0px">1<tspan class="sup" dy="-5.2">st</tspan></text>
<line x1="564" y1="48.7" x2="584.3" y2="48.7" stroke="#f01010" stroke-width="1.6"/>
<text x="587" y="52.10" class="lg" style="font-size:10.0px">5<tspan class="sup" dy="-5.2">th</tspan></text>
<line x1="564" y1="63.6" x2="584.3" y2="63.6" stroke="#1010f0" stroke-width="1.6"/>
<text x="587" y="67.00" class="lg" style="font-size:10.0px">10<tspan class="sup" dy="-5.2">th</tspan></text>
<line x1="564" y1="78.7" x2="584.3" y2="78.7" stroke="#800090" stroke-width="1.6"/>
<text x="587" y="82.10" class="lg" style="font-size:10.0px">50<tspan class="sup" dy="-5.2">th</tspan></text>
<line x1="564" y1="93.6" x2="584.3" y2="93.6" stroke="#00ee00" stroke-width="1.6"/>
<text x="587" y="97.00" class="lg" style="font-size:10.0px">100<tspan class="sup" dy="-5.2">th</tspan></text>
<text x="315" y="18.8" class="pl">(b)</text>
<text x="496.4" y="230.8" text-anchor="middle" class="at">Capacity (mAh/g)</text>
<text transform="translate(329.6,109.4) rotate(-90)" text-anchor="middle" class="at">Voltage (V)</text>
<rect x="52.9" y="245.5" width="249.79999999999998" height="185.8" fill="none" stroke="#333" stroke-width="1.3"/>
<line x1="60.70" y1="431.3" x2="60.70" y2="434.90000000000003" stroke="#333" stroke-width="1.2"/>
<line x1="99.70" y1="431.3" x2="99.70" y2="434.90000000000003" stroke="#333" stroke-width="1.2"/>
<line x1="138.70" y1="431.3" x2="138.70" y2="434.90000000000003" stroke="#333" stroke-width="1.2"/>
<line x1="177.70" y1="431.3" x2="177.70" y2="434.90000000000003" stroke="#333" stroke-width="1.2"/>
<line x1="216.70" y1="431.3" x2="216.70" y2="434.90000000000003" stroke="#333" stroke-width="1.2"/>
<line x1="255.70" y1="431.3" x2="255.70" y2="434.90000000000003" stroke="#333" stroke-width="1.2"/>
<line x1="294.70" y1="431.3" x2="294.70" y2="434.90000000000003" stroke="#333" stroke-width="1.2"/>
<line x1="80.20" y1="431.3" x2="80.20" y2="433.5" stroke="#333" stroke-width="1.2"/>
<line x1="119.20" y1="431.3" x2="119.20" y2="433.5" stroke="#333" stroke-width="1.2"/>
<line x1="158.20" y1="431.3" x2="158.20" y2="433.5" stroke="#333" stroke-width="1.2"/>
<line x1="197.20" y1="431.3" x2="197.20" y2="433.5" stroke="#333" stroke-width="1.2"/>
<line x1="236.20" y1="431.3" x2="236.20" y2="433.5" stroke="#333" stroke-width="1.2"/>
<line x1="275.20" y1="431.3" x2="275.20" y2="433.5" stroke="#333" stroke-width="1.2"/>
<text x="60.70" y="446.4" text-anchor="middle" class="tk">0.0</text>
<text x="99.70" y="446.4" text-anchor="middle" class="tk">0.5</text>
<text x="138.70" y="446.4" text-anchor="middle" class="tk">1.0</text>
<text x="177.70" y="446.4" text-anchor="middle" class="tk">1.5</text>
<text x="216.70" y="446.4" text-anchor="middle" class="tk">2.0</text>
<text x="255.70" y="446.4" text-anchor="middle" class="tk">2.5</text>
<text x="294.70" y="446.4" text-anchor="middle" class="tk">3.0</text>
<line x1="52.9" y1="264.23" x2="49.3" y2="264.23" stroke="#333" stroke-width="1.2"/>
<line x1="52.9" y1="301.50" x2="49.3" y2="301.50" stroke="#333" stroke-width="1.2"/>
<line x1="52.9" y1="338.77" x2="49.3" y2="338.77" stroke="#333" stroke-width="1.2"/>
<line x1="52.9" y1="376.04" x2="49.3" y2="376.04" stroke="#333" stroke-width="1.2"/>
<line x1="52.9" y1="413.31" x2="49.3" y2="413.31" stroke="#333" stroke-width="1.2"/>
<line x1="52.9" y1="282.87" x2="50.699999999999996" y2="282.87" stroke="#333" stroke-width="1.2"/>
<line x1="52.9" y1="320.13" x2="50.699999999999996" y2="320.13" stroke="#333" stroke-width="1.2"/>
<line x1="52.9" y1="357.40" x2="50.699999999999996" y2="357.40" stroke="#333" stroke-width="1.2"/>
<line x1="52.9" y1="394.68" x2="50.699999999999996" y2="394.68" stroke="#333" stroke-width="1.2"/>
<text x="46.5" y="267.83" text-anchor="end" class="tk">0.2</text>
<text x="46.5" y="305.10" text-anchor="end" class="tk">0.0</text>
<text x="46.5" y="342.37" text-anchor="end" class="tk">-0.2</text>
<text x="46.5" y="379.64" text-anchor="end" class="tk">-0.4</text>
<text x="46.5" y="416.91" text-anchor="end" class="tk">-0.6</text>
<path d="M61.10,328.50 L61.52,327.29 L61.89,325.98 L62.20,324.59 L62.47,323.13 L62.72,321.62 L62.95,320.07 L63.18,318.49 L63.42,316.89 L63.67,315.28 L63.96,313.69 L64.30,312.11 L64.69,310.57 L65.14,309.08 L65.68,307.65 L66.31,306.28 L67.03,305.01 L67.88,303.83 L68.85,302.76 L69.95,301.81 L71.18,300.97 L72.50,300.23 L73.90,299.58 L75.35,298.99 L76.83,298.47 L78.33,297.98 L79.82,297.53 L81.31,297.10 L82.79,296.71 L84.27,296.35 L85.75,296.02 L87.23,295.72 L88.70,295.44 L90.18,295.19 L91.65,294.96 L93.12,294.75 L94.59,294.57 L96.06,294.41 L97.53,294.27 L99.00,294.15 L100.47,294.05 L101.94,293.96 L103.42,293.89 L104.89,293.84 L106.37,293.80 L107.85,293.77 L109.33,293.76 L110.82,293.76 L112.30,293.76 L113.80,293.78 L115.29,293.80 L116.79,293.83 L118.29,293.87 L119.80,293.91 L121.32,293.95 L122.84,294.00 L124.36,294.05 L125.89,294.10 L127.43,294.15 L128.97,294.20 L130.52,294.24 L132.08,294.28 L133.64,294.32 L135.21,294.34 L136.77,294.36 L138.34,294.36 L139.90,294.34 L141.46,294.30 L143.02,294.24 L144.56,294.15 L146.10,294.03 L147.62,293.89 L149.14,293.71 L150.63,293.50 L152.12,293.24 L153.58,292.95 L155.02,292.61 L156.45,292.22 L157.84,291.79 L159.22,291.30 L160.57,290.76 L161.88,290.16 L163.17,289.51 L164.43,288.79 L165.65,288.00 L166.83,287.15 L167.98,286.23 L169.09,285.23 L170.16,284.16 L171.19,283.01 L172.18,281.80 L173.14,280.54 L174.07,279.24 L174.99,277.93 L175.89,276.60 L176.79,275.28 L177.68,273.98 L178.58,272.71 L179.49,271.49 L180.41,270.33 L181.36,269.25 L182.34,268.27 L183.36,267.42 L184.43,266.74 L185.58,266.27 L186.80,266.03 L188.12,266.06 L189.53,266.35 L191.01,266.81 L192.55,267.32 L194.12,267.77 L195.69,268.06 L197.26,268.09 L198.81,267.93 L200.32,267.65 L201.80,267.34 L203.24,267.08 L204.62,266.95 L205.94,267.04 L207.20,267.44 L208.38,268.18 L209.50,269.19 L210.58,270.40 L211.62,271.71 L212.64,273.05 L213.64,274.36 L214.63,275.65 L215.62,276.92 L216.60,278.15 L217.59,279.36 L218.57,280.54 L219.56,281.69 L220.57,282.80 L221.59,283.88 L222.62,284.92 L223.68,285.91 L224.76,286.87 L225.87,287.77 L227.01,288.64 L228.18,289.45 L229.40,290.21 L230.65,290.92 L231.95,291.57 L233.30,292.17 L234.68,292.72 L236.10,293.23 L237.55,293.68 L239.02,294.10 L240.51,294.48 L242.01,294.82 L243.53,295.12 L245.05,295.40 L246.57,295.65 L248.09,295.87 L249.61,296.07 L251.13,296.24 L252.65,296.40 L254.18,296.53 L255.70,296.64 L257.22,296.74 L258.74,296.82 L260.26,296.89 L261.78,296.94 L263.30,296.98 L264.82,297.01 L266.33,297.04 L267.85,297.06 L269.36,297.07 L270.88,297.07 L272.39,297.08 L273.90,297.08 L275.41,297.09 L276.91,297.09 L278.41,297.10 L279.91,297.12 L281.41,297.14 L282.91,297.17 L284.40,297.20 L285.89,297.25 L287.38,297.31 L288.86,297.39 L290.34,297.48 L291.66,297.62 L292.28,297.90 L291.85,298.39 L290.68,298.99 L289.18,299.57 L287.65,300.04 L286.11,300.41 L284.57,300.68 L283.02,300.88 L281.46,301.00 L279.91,301.07 L278.36,301.09 L276.80,301.08 L275.25,301.04 L273.70,300.99 L272.16,300.94 L270.62,300.90 L269.09,300.87 L267.56,300.88 L266.05,300.90 L264.53,300.94 L263.02,301.00 L261.52,301.07 L260.02,301.16 L258.52,301.25 L257.02,301.34 L255.53,301.44 L254.04,301.54 L252.54,301.64 L251.05,301.73 L249.55,301.81 L248.05,301.89 L246.56,301.96 L245.06,302.03 L243.56,302.09 L242.06,302.15 L240.56,302.21 L239.06,302.26 L237.55,302.31 L236.05,302.35 L234.55,302.40 L233.04,302.44 L231.54,302.49 L230.03,302.53 L228.53,302.57 L227.02,302.62 L225.52,302.66 L224.01,302.71 L222.51,302.75 L221.00,302.80 L219.50,302.86 L217.99,302.91 L216.49,302.98 L214.98,303.04 L213.48,303.11 L211.97,303.19 L210.47,303.27 L208.97,303.35 L207.46,303.45 L205.96,303.55 L204.46,303.66 L202.96,303.78 L201.45,303.90 L199.95,304.04 L198.45,304.18 L196.96,304.33 L195.46,304.50 L193.96,304.68 L192.47,304.86 L190.97,305.06 L189.48,305.27 L187.98,305.50 L186.49,305.74 L185.00,305.99 L183.51,306.26 L182.03,306.54 L180.54,306.83 L179.06,307.15 L177.58,307.48 L176.11,307.85 L174.65,308.26 L173.21,308.72 L171.79,309.23 L170.40,309.81 L169.03,310.45 L167.70,311.18 L166.39,311.97 L165.10,312.77 L163.78,313.52 L162.44,314.16 L161.04,314.62 L159.56,314.86 L158.02,314.92 L156.49,314.94 L155.02,315.06 L153.68,315.42 L152.48,316.10 L151.41,317.06 L150.45,318.22 L149.56,319.54 L148.73,320.94 L147.92,322.37 L147.10,323.78 L146.29,325.14 L145.47,326.46 L144.67,327.77 L143.88,329.06 L143.12,330.34 L142.40,331.62 L141.72,332.92 L141.09,334.24 L140.52,335.60 L140.01,336.99 L139.57,338.43 L139.20,339.90 L138.88,341.41 L138.60,342.92 L138.37,344.45 L138.17,345.97 L137.99,347.47 L137.83,348.96 L137.68,350.41 L137.52,351.81 L137.36,353.17 L137.19,354.51 L137.01,355.88 L136.81,357.32 L136.60,358.86 L136.38,360.56 L136.14,362.46 L135.88,364.55 L135.60,366.69 L135.30,368.76 L134.98,370.61 L134.63,372.10 L134.26,373.09 L133.86,373.43 L133.43,372.99 L132.93,371.85 L132.29,370.39 L131.41,369.04 L130.26,368.08 L128.97,367.37 L127.70,366.74 L126.58,366.00 L125.71,365.06 L125.07,363.92 L124.62,362.62 L124.34,361.18 L124.20,359.63 L124.15,358.00 L124.18,356.31 L124.25,354.61 L124.32,352.90 L124.37,351.23 L124.38,349.61 L124.36,348.03 L124.30,346.48 L124.21,344.96 L124.08,343.47 L123.93,342.01 L123.76,340.56 L123.55,339.13 L123.33,337.70 L123.08,336.28 L122.82,334.86 L122.54,333.44 L122.25,332.00 L121.95,330.55 L121.63,329.08 L121.31,327.59 L120.98,326.07 L120.65,324.52 L120.31,322.95 L119.92,321.39 L119.46,319.87 L118.89,318.43 L118.19,317.10 L117.35,315.90 L116.37,314.83 L115.27,313.89 L114.07,313.07 L112.77,312.37 L111.39,311.78 L109.95,311.31 L108.46,310.95 L106.92,310.69 L105.37,310.54 L103.80,310.49 L102.24,310.53 L100.69,310.67 L99.18,310.89 L97.69,311.20 L96.23,311.58 L94.79,312.01 L93.37,312.49 L91.96,313.01 L90.56,313.56 L89.17,314.13 L87.77,314.69 L86.38,315.26 L84.99,315.83 L83.59,316.40 L82.20,316.97 L80.81,317.55 L79.42,318.14 L78.04,318.74 L76.67,319.35 L75.30,319.98 L73.95,320.62 L72.60,321.29 L71.26,321.97 L69.94,322.68 L68.63,323.42 L67.33,324.18 L66.05,324.97 L64.78,325.80 L63.54,326.66 L62.31,327.56 L61.10,328.50" fill="none" stroke="#000" stroke-width="1.8" stroke-linejoin="round" stroke-linecap="round"/>
<path d="M61.40,326.00 L61.42,325.02 L61.43,323.88 L61.43,322.59 L61.43,321.18 L61.44,319.66 L61.47,318.06 L61.53,316.40 L61.64,314.70 L61.79,312.99 L62.01,311.28 L62.30,309.59 L62.67,307.95 L63.13,306.38 L63.69,304.90 L64.36,303.54 L65.16,302.30 L66.08,301.22 L67.15,300.31 L68.35,299.58 L69.66,299.00 L71.06,298.54 L72.53,298.17 L74.03,297.87 L75.56,297.62 L77.08,297.38 L78.60,297.17 L80.13,296.98 L81.65,296.81 L83.17,296.65 L84.69,296.51 L86.21,296.39 L87.74,296.29 L89.26,296.19 L90.78,296.12 L92.29,296.05 L93.81,296.00 L95.33,295.96 L96.85,295.92 L98.36,295.90 L99.88,295.89 L101.40,295.88 L102.91,295.88 L104.42,295.88 L105.94,295.89 L107.45,295.90 L108.96,295.92 L110.47,295.94 L111.98,295.96 L113.48,295.98 L114.99,295.99 L116.50,296.01 L118.00,296.02 L119.50,296.04 L121.01,296.04 L122.51,296.04 L124.01,296.04 L125.50,296.03 L127.00,296.01 L128.50,295.98 L129.99,295.94 L131.48,295.89 L132.98,295.83 L134.47,295.76 L135.95,295.67 L137.44,295.57 L138.93,295.46 L140.41,295.33 L141.89,295.18 L143.38,295.01 L144.85,294.83 L146.33,294.63 L147.81,294.40 L149.28,294.16 L150.75,293.89 L152.23,293.60 L153.69,293.28 L155.16,292.94 L156.63,292.58 L158.08,292.18 L159.53,291.75 L160.97,291.29 L162.39,290.79 L163.79,290.24 L165.17,289.65 L166.52,289.01 L167.84,288.31 L169.13,287.56 L170.38,286.75 L171.59,285.88 L172.75,284.95 L173.87,283.94 L174.95,282.87 L175.99,281.76 L177.02,280.61 L178.05,279.45 L179.09,278.29 L180.15,277.14 L181.25,276.03 L182.39,274.96 L183.57,273.98 L184.80,273.09 L186.08,272.32 L187.41,271.70 L188.78,271.25 L190.21,270.99 L191.69,270.92 L193.20,270.97 L194.72,271.10 L196.24,271.27 L197.75,271.41 L199.22,271.48 L200.67,271.44 L202.11,271.30 L203.55,271.02 L205.01,270.61 L206.52,270.05 L208.06,269.39 L209.61,268.75 L211.13,268.24 L212.59,267.97 L213.97,268.01 L215.28,268.35 L216.53,268.93 L217.73,269.73 L218.88,270.69 L220.01,271.79 L221.11,272.98 L222.21,274.22 L223.30,275.48 L224.41,276.72 L225.52,277.91 L226.65,279.06 L227.80,280.17 L228.95,281.25 L230.13,282.28 L231.31,283.27 L232.51,284.22 L233.73,285.13 L234.95,286.00 L236.19,286.84 L237.45,287.63 L238.72,288.39 L240.00,289.11 L241.30,289.79 L242.61,290.44 L243.93,291.05 L245.27,291.62 L246.62,292.16 L247.99,292.66 L249.37,293.12 L250.76,293.55 L252.17,293.94 L253.59,294.30 L255.03,294.63 L256.47,294.92 L257.94,295.18 L259.41,295.40 L260.90,295.59 L262.41,295.75 L263.92,295.88 L265.46,295.97 L267.00,296.04 L268.56,296.07 L270.12,296.08 L271.69,296.08 L273.26,296.06 L274.83,296.03 L276.41,296.00 L277.97,295.97 L279.53,295.94 L281.08,295.92 L282.61,295.91 L284.13,295.92 L285.63,295.95 L287.11,296.01 L288.56,296.10 L289.99,296.23 L291.39,296.39 L292.75,296.60 L293.78,296.93 L294.00,297.49 L293.37,298.22 L292.22,298.90 L290.81,299.40 L289.22,299.76 L287.52,300.01 L285.77,300.19 L284.05,300.33 L282.37,300.47 L280.74,300.59 L279.15,300.70 L277.60,300.80 L276.08,300.89 L274.58,300.97 L273.10,301.05 L271.65,301.12 L270.20,301.19 L268.77,301.25 L267.33,301.31 L265.90,301.37 L264.46,301.42 L263.01,301.48 L261.56,301.54 L260.10,301.59 L258.63,301.65 L257.16,301.70 L255.69,301.76 L254.20,301.82 L252.72,301.87 L251.23,301.93 L249.73,301.99 L248.23,302.05 L246.73,302.11 L245.23,302.17 L243.72,302.24 L242.21,302.30 L240.69,302.37 L239.18,302.44 L237.66,302.51 L236.14,302.58 L234.62,302.66 L233.10,302.73 L231.58,302.81 L230.06,302.89 L228.54,302.98 L227.02,303.07 L225.50,303.16 L223.98,303.25 L222.46,303.35 L220.94,303.45 L219.43,303.56 L217.91,303.66 L216.40,303.78 L214.90,303.89 L213.39,304.01 L211.89,304.14 L210.39,304.27 L208.90,304.40 L207.40,304.54 L205.92,304.68 L204.43,304.82 L202.95,304.97 L201.47,305.13 L199.99,305.28 L198.52,305.44 L197.04,305.60 L195.57,305.76 L194.09,305.92 L192.62,306.08 L191.14,306.24 L189.67,306.41 L188.19,306.57 L186.71,306.74 L185.23,306.90 L183.75,307.06 L182.27,307.22 L180.78,307.38 L179.29,307.54 L177.79,307.69 L176.29,307.84 L174.79,307.99 L173.28,308.14 L171.76,308.28 L170.24,308.41 L168.72,308.55 L167.19,308.67 L165.65,308.80 L164.10,308.91 L162.55,309.02 L160.98,309.13 L159.42,309.23 L157.85,309.34 L156.30,309.47 L154.76,309.63 L153.25,309.83 L151.77,310.08 L150.34,310.39 L148.95,310.78 L147.62,311.24 L146.36,311.81 L145.16,312.47 L144.05,313.25 L143.03,314.16 L142.11,315.21 L141.28,316.39 L140.55,317.70 L139.90,319.12 L139.33,320.61 L138.83,322.17 L138.39,323.76 L138.00,325.38 L137.65,327.00 L137.34,328.60 L137.05,330.16 L136.79,331.70 L136.55,333.21 L136.33,334.70 L136.12,336.17 L135.93,337.62 L135.74,339.07 L135.56,340.50 L135.39,341.94 L135.21,343.37 L135.03,344.81 L134.85,346.26 L134.66,347.72 L134.47,349.18 L134.27,350.65 L134.07,352.13 L133.86,353.61 L133.66,355.10 L133.45,356.60 L133.24,358.09 L133.03,359.60 L132.82,361.10 L132.61,362.61 L132.40,364.12 L132.20,365.63 L131.99,367.14 L131.79,368.65 L131.60,370.16 L131.40,371.67 L131.22,373.18 L131.04,374.69 L130.86,376.19 L130.70,377.69 L130.54,379.19 L130.39,380.68 L130.24,382.17 L130.11,383.65 L129.99,385.12 L129.87,386.59 L129.77,388.05 L129.66,389.52 L129.54,390.99 L129.42,392.47 L129.28,393.96 L129.11,395.46 L128.92,396.99 L128.70,398.54 L128.44,400.11 L128.13,401.72 L127.78,403.36 L127.38,404.96 L126.96,406.16 L126.54,406.56 L126.14,405.94 L125.77,404.63 L125.44,403.03 L125.15,401.41 L124.88,399.82 L124.65,398.24 L124.45,396.68 L124.27,395.13 L124.11,393.59 L123.97,392.06 L123.85,390.54 L123.74,389.03 L123.64,387.52 L123.55,386.02 L123.46,384.52 L123.37,383.03 L123.29,381.54 L123.21,380.04 L123.13,378.56 L123.05,377.07 L122.97,375.58 L122.89,374.10 L122.82,372.61 L122.74,371.13 L122.66,369.65 L122.59,368.16 L122.51,366.68 L122.43,365.20 L122.35,363.71 L122.27,362.23 L122.19,360.74 L122.10,359.26 L122.01,357.77 L121.92,356.28 L121.83,354.79 L121.74,353.29 L121.64,351.80 L121.54,350.30 L121.43,348.80 L121.32,347.30 L121.21,345.79 L121.09,344.28 L120.97,342.77 L120.84,341.26 L120.71,339.74 L120.57,338.21 L120.43,336.68 L120.28,335.15 L120.12,333.61 L119.96,332.07 L119.79,330.52 L119.62,328.97 L119.43,327.41 L119.24,325.85 L119.01,324.30 L118.73,322.79 L118.38,321.32 L117.93,319.91 L117.38,318.57 L116.70,317.33 L115.86,316.20 L114.88,315.18 L113.77,314.27 L112.55,313.47 L111.23,312.78 L109.83,312.21 L108.36,311.73 L106.84,311.37 L105.29,311.11 L103.72,310.95 L102.15,310.90 L100.60,310.95 L99.07,311.10 L97.57,311.34 L96.10,311.66 L94.65,312.04 L93.22,312.48 L91.80,312.96 L90.39,313.47 L88.98,314.00 L87.58,314.54 L86.17,315.08 L84.77,315.62 L83.36,316.16 L81.96,316.71 L80.56,317.26 L79.16,317.81 L77.77,318.37 L76.37,318.94 L74.98,319.52 L73.60,320.10 L72.22,320.70 L70.84,321.31 L69.47,321.93 L68.11,322.57 L66.75,323.22 L65.40,323.89 L64.06,324.57 L62.72,325.28 L61.40,326.00" fill="none" stroke="#f01010" stroke-width="1.8" stroke-linejoin="round" stroke-linecap="round"/>
<path d="M61.40,325.40 L61.53,324.56 L61.61,323.51 L61.66,322.28 L61.69,320.89 L61.71,319.38 L61.74,317.77 L61.79,316.08 L61.87,314.33 L62.00,312.56 L62.18,310.79 L62.43,309.04 L62.76,307.34 L63.18,305.72 L63.72,304.19 L64.37,302.80 L65.15,301.55 L66.08,300.48 L67.17,299.61 L68.40,298.94 L69.76,298.43 L71.20,298.06 L72.71,297.78 L74.26,297.56 L75.82,297.37 L77.37,297.20 L78.91,297.03 L80.44,296.88 L81.97,296.73 L83.49,296.59 L85.01,296.47 L86.52,296.35 L88.03,296.24 L89.53,296.13 L91.03,296.04 L92.52,295.95 L94.01,295.87 L95.50,295.80 L96.99,295.73 L98.47,295.68 L99.96,295.62 L101.44,295.58 L102.92,295.53 L104.40,295.50 L105.89,295.47 L107.37,295.44 L108.85,295.42 L110.34,295.40 L111.83,295.39 L113.32,295.38 L114.81,295.38 L116.31,295.38 L117.81,295.38 L119.31,295.38 L120.82,295.39 L122.34,295.39 L123.86,295.40 L125.38,295.42 L126.92,295.43 L128.46,295.44 L130.00,295.46 L131.56,295.47 L133.12,295.49 L134.68,295.49 L136.25,295.49 L137.81,295.47 L139.37,295.44 L140.93,295.39 L142.48,295.32 L144.03,295.22 L145.56,295.10 L147.08,294.94 L148.59,294.75 L150.08,294.52 L151.56,294.24 L153.01,293.93 L154.44,293.56 L155.85,293.15 L157.23,292.68 L158.59,292.16 L159.93,291.59 L161.24,290.97 L162.53,290.31 L163.81,289.60 L165.06,288.85 L166.30,288.06 L167.52,287.24 L168.72,286.38 L169.91,285.48 L171.09,284.55 L172.25,283.59 L173.40,282.60 L174.54,281.59 L175.68,280.55 L176.80,279.49 L177.92,278.41 L179.03,277.31 L180.14,276.20 L181.24,275.07 L182.35,273.94 L183.46,272.84 L184.60,271.82 L185.76,270.91 L186.96,270.14 L188.21,269.57 L189.52,269.21 L190.90,269.12 L192.35,269.27 L193.86,269.59 L195.41,269.96 L196.98,270.27 L198.56,270.43 L200.14,270.36 L201.70,270.13 L203.25,269.81 L204.76,269.48 L206.24,269.22 L207.67,269.10 L209.06,269.20 L210.38,269.55 L211.67,270.13 L212.91,270.88 L214.13,271.77 L215.32,272.75 L216.51,273.78 L217.69,274.82 L218.87,275.86 L220.06,276.88 L221.25,277.88 L222.44,278.87 L223.64,279.85 L224.84,280.80 L226.04,281.74 L227.26,282.66 L228.48,283.55 L229.70,284.43 L230.94,285.28 L232.18,286.10 L233.43,286.90 L234.70,287.67 L235.97,288.41 L237.25,289.11 L238.55,289.79 L239.86,290.44 L241.18,291.05 L242.52,291.62 L243.87,292.16 L245.24,292.65 L246.62,293.11 L248.02,293.53 L249.43,293.91 L250.86,294.24 L252.32,294.53 L253.78,294.77 L255.27,294.97 L256.77,295.14 L258.28,295.27 L259.81,295.38 L261.34,295.45 L262.89,295.50 L264.44,295.53 L265.99,295.55 L267.55,295.55 L269.11,295.54 L270.67,295.52 L272.23,295.50 L273.79,295.47 L275.34,295.45 L276.89,295.44 L278.43,295.43 L279.97,295.44 L281.49,295.46 L283.00,295.50 L284.50,295.56 L285.98,295.63 L287.47,295.73 L288.94,295.85 L290.41,295.98 L291.88,296.13 L293.33,296.30 L294.37,296.61 L294.36,297.24 L293.38,298.07 L292.00,298.81 L290.55,299.32 L289.05,299.64 L287.52,299.83 L285.98,299.95 L284.44,300.04 L282.90,300.12 L281.36,300.21 L279.83,300.29 L278.30,300.38 L276.78,300.46 L275.25,300.53 L273.73,300.61 L272.22,300.69 L270.70,300.76 L269.19,300.83 L267.68,300.90 L266.18,300.97 L264.67,301.04 L263.17,301.11 L261.67,301.18 L260.17,301.25 L258.67,301.32 L257.17,301.38 L255.67,301.45 L254.18,301.52 L252.68,301.59 L251.19,301.66 L249.70,301.73 L248.20,301.80 L246.71,301.87 L245.22,301.94 L243.72,302.01 L242.23,302.09 L240.74,302.16 L239.24,302.24 L237.75,302.32 L236.25,302.40 L234.75,302.48 L233.26,302.57 L231.76,302.66 L230.26,302.75 L228.75,302.84 L227.25,302.93 L225.74,303.03 L224.24,303.13 L222.73,303.24 L221.22,303.34 L219.71,303.45 L218.20,303.57 L216.69,303.68 L215.18,303.80 L213.67,303.92 L212.16,304.05 L210.65,304.18 L209.14,304.31 L207.64,304.45 L206.13,304.59 L204.62,304.74 L203.12,304.89 L201.61,305.04 L200.11,305.20 L198.61,305.36 L197.11,305.52 L195.61,305.69 L194.12,305.87 L192.63,306.05 L191.14,306.23 L189.65,306.42 L188.16,306.61 L186.68,306.81 L185.20,307.02 L183.73,307.22 L182.26,307.44 L180.79,307.66 L179.32,307.88 L177.86,308.11 L176.40,308.33 L174.93,308.54 L173.46,308.75 L171.98,308.94 L170.50,309.10 L169.00,309.25 L167.49,309.36 L165.96,309.44 L164.41,309.49 L162.85,309.49 L161.26,309.45 L159.65,309.37 L158.03,309.27 L156.42,309.19 L154.83,309.15 L153.28,309.18 L151.77,309.31 L150.33,309.57 L148.96,309.99 L147.68,310.59 L146.48,311.36 L145.37,312.27 L144.33,313.31 L143.37,314.44 L142.47,315.65 L141.63,316.91 L140.86,318.20 L140.13,319.52 L139.47,320.87 L138.85,322.24 L138.28,323.64 L137.75,325.06 L137.27,326.50 L136.83,327.96 L136.44,329.43 L136.07,330.92 L135.75,332.43 L135.46,333.94 L135.19,335.46 L134.96,336.99 L134.75,338.53 L134.56,340.06 L134.40,341.60 L134.26,343.14 L134.13,344.67 L134.02,346.21 L133.92,347.73 L133.83,349.25 L133.75,350.75 L133.68,352.25 L133.61,353.73 L133.54,355.19 L133.47,356.64 L133.39,358.07 L133.31,359.48 L133.23,360.86 L133.13,362.22 L133.03,363.57 L132.92,364.90 L132.80,366.21 L132.67,367.53 L132.54,368.83 L132.40,370.14 L132.25,371.45 L132.09,372.77 L131.93,374.10 L131.76,375.45 L131.59,376.81 L131.40,378.20 L131.21,379.61 L131.02,381.04 L130.82,382.52 L130.61,384.02 L130.39,385.57 L130.17,387.16 L129.95,388.80 L129.72,390.49 L129.48,392.23 L129.24,394.03 L128.99,395.90 L128.74,397.83 L128.48,399.82 L128.22,401.88 L127.96,403.93 L127.70,405.87 L127.44,407.62 L127.19,409.07 L126.96,410.14 L126.73,410.73 L126.53,410.75 L126.34,410.20 L126.18,409.16 L126.02,407.73 L125.87,406.00 L125.74,404.07 L125.61,402.02 L125.48,399.95 L125.36,397.92 L125.24,395.96 L125.12,394.04 L125.00,392.18 L124.89,390.36 L124.77,388.60 L124.66,386.87 L124.55,385.19 L124.44,383.55 L124.33,381.95 L124.22,380.38 L124.11,378.84 L124.00,377.34 L123.90,375.86 L123.79,374.42 L123.69,372.99 L123.58,371.59 L123.47,370.21 L123.37,368.84 L123.26,367.50 L123.16,366.16 L123.05,364.83 L122.94,363.52 L122.84,362.21 L122.73,360.90 L122.62,359.60 L122.51,358.30 L122.40,356.99 L122.29,355.68 L122.17,354.36 L122.06,353.04 L121.94,351.70 L121.83,350.35 L121.71,348.98 L121.59,347.60 L121.46,346.19 L121.34,344.77 L121.21,343.31 L121.08,341.83 L120.95,340.33 L120.81,338.79 L120.67,337.23 L120.52,335.65 L120.35,334.05 L120.16,332.45 L119.94,330.85 L119.70,329.25 L119.42,327.65 L119.11,326.08 L118.75,324.52 L118.35,323.00 L117.89,321.52 L117.37,320.09 L116.77,318.72 L116.11,317.43 L115.35,316.22 L114.51,315.11 L113.57,314.10 L112.52,313.20 L111.36,312.43 L110.08,311.80 L108.68,311.31 L107.17,310.96 L105.59,310.74 L103.97,310.63 L102.33,310.63 L100.71,310.71 L99.13,310.87 L97.60,311.10 L96.11,311.39 L94.65,311.75 L93.22,312.15 L91.81,312.59 L90.43,313.08 L89.06,313.59 L87.70,314.14 L86.35,314.69 L84.99,315.27 L83.63,315.84 L82.26,316.42 L80.87,316.99 L79.46,317.55 L78.02,318.09 L76.55,318.60 L75.05,319.08 L73.51,319.52 L71.95,319.95 L70.40,320.39 L68.88,320.86 L67.39,321.38 L65.98,321.96 L64.65,322.64 L63.43,323.42 L62.34,324.33 L61.40,325.40" fill="none" stroke="#1010f0" stroke-width="1.8" stroke-linejoin="round" stroke-linecap="round"/>
<text x="176.8" y="262.8" class="anb">1.60</text>
<text x="200.9" y="261.8" class="anb">1.82</text>
<text x="162.3" y="324.8" class="anb">1.27</text>
<text x="133.2" y="380.6" class="anb">0.92</text>
<text x="122.5" y="418.2" class="anb">0.84</text>
<text x="68.8" y="266.0" class="fe">Fe<tspan class="sub" dy="3.7">2</tspan><tspan dy="-3.7">O</tspan><tspan class="sub" dy="3.7">3</tspan><tspan dy="-3.7">/SWNT-600</tspan><tspan class="deg" dy="-4.7">o</tspan><tspan dy="4.7">C</tspan></text>
<line x1="223.2" y1="363.8" x2="243.7" y2="363.8" stroke="#000" stroke-width="1.6"/>
<text x="245.9" y="367.20" class="lg" style="font-size:9.6px">1<tspan class="sup" dy="-5.2">st</tspan></text>
<line x1="223.2" y1="379.1" x2="243.7" y2="379.1" stroke="#f01010" stroke-width="1.6"/>
<text x="245.9" y="382.50" class="lg" style="font-size:9.6px">2<tspan class="sup" dy="-5.2">nd</tspan></text>
<line x1="223.2" y1="394" x2="243.7" y2="394" stroke="#1010f0" stroke-width="1.6"/>
<text x="245.9" y="397.40" class="lg" style="font-size:9.6px">3<tspan class="sup" dy="-5.2">rd</tspan></text>
<text x="7" y="244.5" class="pl">(c)</text>
<text x="177.6" y="470.8" text-anchor="middle" class="at">Potential (V vs.Li<tspan class="asup" dx="0.5" dy="-7.8">+</tspan><tspan dx="0.9" dy="7.8">/Li)</tspan></text>
<text transform="translate(13.0,342.4) rotate(-90)" text-anchor="middle" class="at" style="font-size:14.6px">Current (A/g)</text>
<rect x="374.8" y="245.4" width="249.49999999999994" height="185.9" fill="none" stroke="#333" stroke-width="1.3"/>
<line x1="375.00" y1="431.3" x2="375.00" y2="434.90000000000003" stroke="#333" stroke-width="1.2"/>
<line x1="416.55" y1="431.3" x2="416.55" y2="434.90000000000003" stroke="#333" stroke-width="1.2"/>
<line x1="458.10" y1="431.3" x2="458.10" y2="434.90000000000003" stroke="#333" stroke-width="1.2"/>
<line x1="499.65" y1="431.3" x2="499.65" y2="434.90000000000003" stroke="#333" stroke-width="1.2"/>
<line x1="541.20" y1="431.3" x2="541.20" y2="434.90000000000003" stroke="#333" stroke-width="1.2"/>
<line x1="582.75" y1="431.3" x2="582.75" y2="434.90000000000003" stroke="#333" stroke-width="1.2"/>
<line x1="624.30" y1="431.3" x2="624.30" y2="434.90000000000003" stroke="#333" stroke-width="1.2"/>
<line x1="395.77" y1="431.3" x2="395.77" y2="433.5" stroke="#333" stroke-width="1.2"/>
<line x1="437.32" y1="431.3" x2="437.32" y2="433.5" stroke="#333" stroke-width="1.2"/>
<line x1="478.88" y1="431.3" x2="478.88" y2="433.5" stroke="#333" stroke-width="1.2"/>
<line x1="520.42" y1="431.3" x2="520.42" y2="433.5" stroke="#333" stroke-width="1.2"/>
<line x1="561.98" y1="431.3" x2="561.98" y2="433.5" stroke="#333" stroke-width="1.2"/>
<line x1="603.52" y1="431.3" x2="603.52" y2="433.5" stroke="#333" stroke-width="1.2"/>
<text x="375.00" y="446.3" text-anchor="middle" class="tk">0</text>
<text x="416.55" y="446.3" text-anchor="middle" class="tk">200</text>
<text x="458.10" y="446.3" text-anchor="middle" class="tk">400</text>
<text x="499.65" y="446.3" text-anchor="middle" class="tk">600</text>
<text x="541.20" y="446.3" text-anchor="middle" class="tk">800</text>
<text x="582.75" y="446.3" text-anchor="middle" class="tk">1000</text>
<text x="624.30" y="446.3" text-anchor="middle" class="tk">1200</text>
<line x1="374.8" y1="425.70" x2="371.2" y2="425.70" stroke="#333" stroke-width="1.2"/>
<line x1="374.8" y1="396.63" x2="371.2" y2="396.63" stroke="#333" stroke-width="1.2"/>
<line x1="374.8" y1="367.57" x2="371.2" y2="367.57" stroke="#333" stroke-width="1.2"/>
<line x1="374.8" y1="338.50" x2="371.2" y2="338.50" stroke="#333" stroke-width="1.2"/>
<line x1="374.8" y1="309.44" x2="371.2" y2="309.44" stroke="#333" stroke-width="1.2"/>
<line x1="374.8" y1="280.38" x2="371.2" y2="280.38" stroke="#333" stroke-width="1.2"/>
<line x1="374.8" y1="251.31" x2="371.2" y2="251.31" stroke="#333" stroke-width="1.2"/>
<line x1="374.8" y1="411.17" x2="372.6" y2="411.17" stroke="#333" stroke-width="1.2"/>
<line x1="374.8" y1="382.10" x2="372.6" y2="382.10" stroke="#333" stroke-width="1.2"/>
<line x1="374.8" y1="353.04" x2="372.6" y2="353.04" stroke="#333" stroke-width="1.2"/>
<line x1="374.8" y1="323.97" x2="372.6" y2="323.97" stroke="#333" stroke-width="1.2"/>
<line x1="374.8" y1="294.91" x2="372.6" y2="294.91" stroke="#333" stroke-width="1.2"/>
<line x1="374.8" y1="265.84" x2="372.6" y2="265.84" stroke="#333" stroke-width="1.2"/>
<text x="367.8" y="429.30" text-anchor="end" class="tk">0.0</text>
<text x="367.8" y="400.24" text-anchor="end" class="tk">0.5</text>
<text x="367.8" y="371.17" text-anchor="end" class="tk">1.0</text>
<text x="367.8" y="342.11" text-anchor="end" class="tk">1.5</text>
<text x="367.8" y="313.04" text-anchor="end" class="tk">2.0</text>
<text x="367.8" y="283.98" text-anchor="end" class="tk">2.5</text>
<text x="367.8" y="254.91" text-anchor="end" class="tk">3.0</text>
<path d="M374.91,280.17 L374.86,281.56 L374.83,282.96 L374.81,284.38 L374.80,285.81 L374.81,287.26 L374.83,288.72 L374.87,290.19 L374.92,291.67 L374.98,293.17 L375.07,294.67 L375.17,296.18 L375.28,297.70 L375.41,299.22 L375.56,300.75 L375.73,302.29 L375.91,303.83 L376.11,305.37 L376.33,306.91 L376.57,308.46 L376.83,310.00 L377.11,311.54 L377.40,313.08 L377.72,314.62 L378.06,316.15 L378.42,317.68 L378.80,319.20 L379.20,320.72 L379.62,322.23 L380.07,323.73 L380.54,325.22 L381.03,326.70 L381.54,328.16 L382.08,329.62 L382.64,331.06 L383.22,332.49 L383.83,333.90 L384.47,335.29 L385.13,336.67 L385.82,338.03 L386.53,339.37 L387.27,340.69 L388.03,341.99 L388.82,343.27 L389.64,344.53 L390.49,345.76 L391.37,346.96 L392.27,348.15 L393.20,349.30 L394.16,350.43 L395.15,351.52 L396.17,352.60 L397.21,353.64 L398.28,354.66 L399.38,355.65 L400.50,356.61 L401.65,357.55 L402.81,358.46 L404.00,359.35 L405.21,360.21 L406.45,361.05 L407.70,361.86 L408.97,362.64 L410.26,363.41 L411.57,364.14 L412.89,364.86 L414.23,365.55 L415.59,366.21 L416.96,366.86 L418.34,367.48 L419.74,368.08 L421.15,368.65 L422.57,369.20 L424.01,369.73 L425.45,370.24 L426.90,370.73 L428.36,371.20 L429.83,371.64 L431.30,372.07 L432.78,372.47 L434.27,372.86 L435.76,373.22 L437.25,373.56 L438.75,373.89 L440.25,374.19 L441.75,374.48 L443.24,374.76 L444.74,375.04 L446.22,375.33 L447.69,375.63 L449.15,375.96 L450.59,376.33 L452.00,376.73 L453.39,377.19 L454.76,377.71 L456.09,378.30 L457.39,378.95 L458.67,379.66 L459.91,380.42 L461.14,381.23 L462.34,382.09 L463.52,383.00 L464.68,383.93 L465.82,384.90 L466.95,385.90 L468.06,386.93 L469.16,387.97 L470.25,389.04 L471.33,390.12 L472.40,391.22 L473.47,392.33 L474.54,393.45 L475.60,394.57 L476.66,395.70 L477.73,396.82 L478.80,397.94 L479.87,399.06 L480.95,400.16 L482.04,401.26 L483.14,402.34 L484.26,403.40 L485.38,404.44 L486.53,405.46 L487.69,406.45 L488.87,407.41 L490.07,408.34 L491.30,409.24 L492.54,410.10 L493.81,410.94 L495.10,411.74 L496.40,412.52 L497.71,413.26 L499.05,413.99 L500.39,414.69 L501.75,415.37 L503.11,416.03 L504.49,416.67 L505.87,417.30 L507.26,417.91 L508.66,418.51 L510.05,419.09 L511.46,419.67 L512.86,420.23 L514.26,420.79 L515.66,421.34 L517.05,421.89 L518.44,422.44" fill="none" stroke="#000" stroke-width="1.8" stroke-linejoin="round" stroke-linecap="round"/>
<path d="M374.63,419.31 L375.06,417.89 L375.48,416.47 L375.91,415.04 L376.34,413.60 L376.77,412.15 L377.21,410.70 L377.65,409.25 L378.09,407.79 L378.54,406.33 L378.99,404.86 L379.45,403.39 L379.91,401.93 L380.39,400.46 L380.87,398.99 L381.35,397.52 L381.85,396.06 L382.35,394.60 L382.87,393.14 L383.39,391.68 L383.92,390.23 L384.47,388.78 L385.03,387.34 L385.59,385.91 L386.18,384.49 L386.77,383.07 L387.38,381.66 L388.00,380.26 L388.64,378.87 L389.29,377.49 L389.96,376.12 L390.65,374.77 L391.35,373.43 L392.07,372.10 L392.81,370.78 L393.56,369.48 L394.34,368.20 L395.13,366.94 L395.95,365.69 L396.79,364.45 L397.64,363.24 L398.52,362.05 L399.42,360.87 L400.34,359.72 L401.28,358.58 L402.24,357.46 L403.22,356.36 L404.22,355.27 L405.24,354.20 L406.27,353.15 L407.32,352.11 L408.39,351.09 L409.48,350.09 L410.58,349.10 L411.70,348.13 L412.83,347.17 L413.98,346.22 L415.14,345.29 L416.32,344.37 L417.51,343.47 L418.71,342.58 L419.93,341.70 L421.16,340.83 L422.40,339.98 L423.65,339.14 L424.91,338.30 L426.18,337.48 L427.46,336.67 L428.75,335.87 L430.05,335.07 L431.36,334.29 L432.67,333.51 L433.99,332.73 L435.31,331.97 L436.64,331.20 L437.98,330.45 L439.31,329.69 L440.65,328.94 L442.00,328.19 L443.34,327.45 L444.69,326.70 L446.04,325.96 L447.38,325.21 L448.73,324.47 L450.07,323.72 L451.42,322.97 L452.76,322.22 L454.09,321.46 L455.43,320.71 L456.76,319.94 L458.08,319.17 L459.40,318.40 L460.71,317.62 L462.02,316.83 L463.31,316.03 L464.60,315.23 L465.89,314.41 L467.16,313.59 L468.42,312.76 L469.67,311.91 L470.91,311.05 L472.14,310.18 L473.35,309.30 L474.55,308.41 L475.74,307.49 L476.91,306.57 L478.07,305.63 L479.22,304.67 L480.34,303.70 L481.45,302.70 L482.54,301.69 L483.62,300.66 L484.67,299.61 L485.71,298.55 L486.72,297.46 L487.72,296.34 L488.70,295.21 L489.65,294.06 L490.59,292.90 L491.51,291.71 L492.41,290.51 L493.30,289.29 L494.17,288.05 L495.02,286.80 L495.86,285.54 L496.68,284.26 L497.49,282.97 L498.28,281.66 L499.06,280.35 L499.83,279.03 L500.59,277.69 L501.33,276.35 L502.06,275.00 L502.78,273.64 L503.49,272.28 L504.19,270.91 L504.88,269.53 L505.57,268.15 L506.24,266.77 L506.91,265.38 L507.57,263.99 L508.22,262.60 L508.86,261.21 L509.50,259.82 L510.14,258.42 L510.77,257.04 L511.39,255.65 L512.02,254.26 L512.63,252.88 L513.25,251.51 L513.86,250.14" fill="none" stroke="#000" stroke-width="1.8" stroke-linejoin="round" stroke-linecap="round"/>
<path d="M374.91,280.17 L374.86,281.56 L374.83,282.96 L374.81,284.38 L374.80,285.81 L374.81,287.26 L374.83,288.72 L374.87,290.19 L374.92,291.67 L374.98,293.17 L375.07,294.67 L375.17,296.18 L375.28,297.70 L375.41,299.22 L375.56,300.75 L375.73,302.29 L375.91,303.83 L376.11,305.37 L376.33,306.91 L376.57,308.46 L376.83,310.00 L377.11,311.54 L377.40,313.08 L377.72,314.62 L378.06,316.15 L378.42,317.68 L378.80,319.20 L379.20,320.72 L379.62,322.23 L380.07,323.73 L380.54,325.22 L381.03,326.70 L381.54,328.16 L382.08,329.62 L382.64,331.06 L383.22,332.49 L383.83,333.90 L384.47,335.29 L385.13,336.67 L385.82,338.03 L386.53,339.37 L387.27,340.69 L388.03,341.99 L388.82,343.27 L389.64,344.53 L390.49,345.76 L391.37,346.96 L392.27,348.15 L393.20,349.30 L394.16,350.43 L395.15,351.52 L396.17,352.60 L397.21,353.64 L398.28,354.66 L399.38,355.65 L400.50,356.61 L401.65,357.55 L402.81,358.46 L404.00,359.35 L405.21,360.21 L406.45,361.05 L407.70,361.86 L408.97,362.64 L410.26,363.41 L411.57,364.14 L412.89,364.86 L414.23,365.55 L415.59,366.21 L416.96,366.86 L418.34,367.48 L419.74,368.08 L421.15,368.65 L422.57,369.20 L424.01,369.73 L425.45,370.24 L426.90,370.73 L428.36,371.20 L429.83,371.64 L431.30,372.07 L432.78,372.47 L434.27,372.86 L435.76,373.22 L437.25,373.56 L438.75,373.89 L440.25,374.19 L441.75,374.48 L443.24,374.76 L444.74,375.04 L446.22,375.33 L447.69,375.63 L449.15,375.96 L450.59,376.33 L452.00,376.73 L453.39,377.19 L454.76,377.71 L456.09,378.30 L457.39,378.95 L458.67,379.66 L459.91,380.42 L461.14,381.23 L462.34,382.09 L463.52,383.00 L464.68,383.93 L465.82,384.90 L466.95,385.90 L468.06,386.93 L469.16,387.97 L470.25,389.04 L471.33,390.12 L472.40,391.22 L473.47,392.33 L474.54,393.45 L475.60,394.57 L476.66,395.70 L477.73,396.82 L478.80,397.94 L479.87,399.06 L480.95,400.16 L482.04,401.26 L483.14,402.34 L484.26,403.40 L485.38,404.44 L486.53,405.46 L487.69,406.45 L488.87,407.41 L490.07,408.34 L491.30,409.24 L492.54,410.10 L493.81,410.94 L495.10,411.74 L496.40,412.52 L497.71,413.26 L499.05,413.99 L500.39,414.69 L501.75,415.37 L503.11,416.03 L504.49,416.67 L505.87,417.30 L507.26,417.91 L508.66,418.51 L510.05,419.09 L511.46,419.67 L512.86,420.23 L514.26,420.79 L515.66,421.34 L517.05,421.89 L518.44,422.44" fill="none" stroke="#f01010" stroke-width="1.8" stroke-linejoin="round" stroke-linecap="round"/>
<path d="M374.63,419.31 L375.06,417.89 L375.48,416.47 L375.91,415.04 L376.34,413.60 L376.77,412.15 L377.21,410.70 L377.65,409.25 L378.09,407.79 L378.54,406.33 L378.99,404.86 L379.45,403.39 L379.91,401.93 L380.39,400.46 L380.87,398.99 L381.35,397.52 L381.85,396.06 L382.35,394.60 L382.87,393.14 L383.39,391.68 L383.92,390.23 L384.47,388.78 L385.03,387.34 L385.59,385.91 L386.18,384.49 L386.77,383.07 L387.38,381.66 L388.00,380.26 L388.64,378.87 L389.29,377.49 L389.96,376.12 L390.65,374.77 L391.35,373.43 L392.07,372.10 L392.81,370.78 L393.56,369.48 L394.34,368.20 L395.13,366.94 L395.95,365.69 L396.79,364.45 L397.64,363.24 L398.52,362.05 L399.42,360.87 L400.34,359.72 L401.28,358.58 L402.24,357.46 L403.22,356.36 L404.22,355.27 L405.24,354.20 L406.27,353.15 L407.32,352.11 L408.39,351.09 L409.48,350.09 L410.58,349.10 L411.70,348.13 L412.83,347.17 L413.98,346.22 L415.14,345.29 L416.32,344.37 L417.51,343.47 L418.71,342.58 L419.93,341.70 L421.16,340.83 L422.40,339.98 L423.65,339.14 L424.91,338.30 L426.18,337.48 L427.46,336.67 L428.75,335.87 L430.05,335.07 L431.36,334.29 L432.67,333.51 L433.99,332.73 L435.31,331.97 L436.64,331.20 L437.98,330.45 L439.31,329.69 L440.65,328.94 L442.00,328.19 L443.34,327.45 L444.69,326.70 L446.04,325.96 L447.38,325.21 L448.73,324.47 L450.07,323.72 L451.42,322.97 L452.76,322.22 L454.09,321.46 L455.43,320.71 L456.76,319.94 L458.08,319.17 L459.40,318.40 L460.71,317.62 L462.02,316.83 L463.31,316.03 L464.60,315.23 L465.89,314.41 L467.16,313.59 L468.42,312.76 L469.67,311.91 L470.91,311.05 L472.14,310.18 L473.35,309.30 L474.55,308.41 L475.74,307.49 L476.91,306.57 L478.07,305.63 L479.22,304.67 L480.34,303.70 L481.45,302.70 L482.54,301.69 L483.62,300.66 L484.67,299.61 L485.71,298.55 L486.72,297.46 L487.72,296.34 L488.70,295.21 L489.65,294.06 L490.59,292.90 L491.51,291.71 L492.41,290.51 L493.30,289.29 L494.17,288.05 L495.02,286.80 L495.86,285.54 L496.68,284.26 L497.49,282.97 L498.28,281.66 L499.06,280.35 L499.83,279.03 L500.59,277.69 L501.33,276.35 L502.06,275.00 L502.78,273.64 L503.49,272.28 L504.19,270.91 L504.88,269.53 L505.57,268.15 L506.24,266.77 L506.91,265.38 L507.57,263.99 L508.22,262.60 L508.86,261.21 L509.50,259.82 L510.14,258.42 L510.77,257.04 L511.39,255.65 L512.02,254.26 L512.63,252.88 L513.25,251.51 L513.86,250.14" fill="none" stroke="#f01010" stroke-width="1.8" stroke-linejoin="round" stroke-linecap="round"/>
<path d="M374.89,280.19 L374.86,281.56 L374.84,282.95 L374.84,284.35 L374.84,285.77 L374.86,287.21 L374.90,288.66 L374.95,290.12 L375.01,291.59 L375.08,293.08 L375.17,294.57 L375.28,296.08 L375.40,297.59 L375.54,299.11 L375.70,300.64 L375.87,302.17 L376.06,303.70 L376.26,305.24 L376.49,306.78 L376.73,308.32 L376.99,309.87 L377.27,311.41 L377.57,312.95 L377.89,314.49 L378.23,316.02 L378.59,317.55 L378.97,319.07 L379.37,320.59 L379.79,322.09 L380.24,323.59 L380.70,325.09 L381.19,326.57 L381.71,328.03 L382.24,329.49 L382.80,330.93 L383.39,332.36 L383.99,333.77 L384.63,335.17 L385.29,336.54 L385.97,337.90 L386.68,339.24 L387.41,340.56 L388.18,341.86 L388.97,343.14 L389.78,344.39 L390.63,345.62 L391.50,346.82 L392.40,348.00 L393.33,349.15 L394.29,350.27 L395.27,351.36 L396.29,352.43 L397.33,353.46 L398.40,354.47 L399.49,355.45 L400.61,356.41 L401.75,357.34 L402.92,358.24 L404.11,359.11 L405.32,359.97 L406.55,360.79 L407.80,361.59 L409.07,362.37 L410.36,363.12 L411.66,363.84 L412.99,364.55 L414.33,365.23 L415.68,365.89 L417.05,366.52 L418.43,367.13 L419.83,367.72 L421.23,368.29 L422.65,368.84 L424.08,369.36 L425.52,369.87 L426.97,370.35 L428.42,370.82 L429.88,371.26 L431.35,371.68 L432.83,372.09 L434.31,372.48 L435.79,372.84 L437.28,373.19 L438.77,373.53 L440.26,373.84 L441.75,374.14 L443.24,374.43 L444.73,374.72 L446.20,375.01 L447.67,375.32 L449.12,375.65 L450.56,376.01 L451.98,376.40 L453.37,376.84 L454.74,377.33 L456.09,377.87 L457.40,378.48 L458.69,379.13 L459.96,379.84 L461.20,380.60 L462.42,381.40 L463.62,382.25 L464.80,383.14 L465.96,384.07 L467.10,385.03 L468.22,386.03 L469.33,387.06 L470.43,388.11 L471.52,389.18 L472.60,390.27 L473.68,391.37 L474.75,392.49 L475.82,393.61 L476.89,394.73 L477.97,395.85 L479.04,396.97 L480.13,398.08 L481.22,399.18 L482.32,400.26 L483.44,401.32 L484.57,402.36 L485.71,403.37 L486.88,404.35 L488.06,405.29 L489.27,406.20 L490.50,407.07 L491.76,407.89 L493.05,408.67 L494.35,409.42 L495.68,410.12 L497.02,410.80 L498.39,411.44 L499.76,412.06 L501.16,412.65 L502.56,413.23 L503.97,413.79 L505.39,414.34 L506.81,414.88 L508.24,415.41 L509.67,415.93 L511.10,416.46 L512.52,416.99 L513.94,417.53 L515.36,418.08 L516.77,418.64 L518.17,419.21 L519.55,419.81 L520.92,420.43 L522.28,421.07 L523.62,421.74" fill="none" stroke="#1010f0" stroke-width="1.8" stroke-linejoin="round" stroke-linecap="round"/>
<path d="M374.44,419.11 L374.98,417.81 L375.51,416.49 L376.02,415.15 L376.53,413.79 L377.04,412.41 L377.53,411.02 L378.02,409.62 L378.51,408.20 L379.00,406.77 L379.48,405.33 L379.96,403.88 L380.45,402.43 L380.93,400.96 L381.41,399.49 L381.90,398.02 L382.39,396.54 L382.89,395.06 L383.39,393.58 L383.90,392.10 L384.41,390.62 L384.94,389.14 L385.47,387.67 L386.01,386.20 L386.57,384.74 L387.14,383.29 L387.72,381.84 L388.31,380.40 L388.92,378.98 L389.55,377.57 L390.19,376.17 L390.85,374.78 L391.53,373.41 L392.24,372.06 L392.96,370.73 L393.70,369.41 L394.47,368.12 L395.26,366.85 L396.07,365.60 L396.91,364.37 L397.78,363.17 L398.67,362.00 L399.59,360.85 L400.54,359.73 L401.51,358.63 L402.51,357.55 L403.52,356.50 L404.57,355.46 L405.63,354.45 L406.71,353.46 L407.81,352.49 L408.94,351.53 L410.07,350.59 L411.23,349.67 L412.40,348.76 L413.59,347.87 L414.79,346.99 L416.01,346.13 L417.24,345.27 L418.48,344.43 L419.73,343.60 L420.99,342.77 L422.26,341.96 L423.53,341.15 L424.82,340.35 L426.11,339.56 L427.41,338.77 L428.71,337.98 L430.02,337.21 L431.34,336.43 L432.66,335.66 L433.98,334.90 L435.31,334.14 L436.64,333.38 L437.97,332.62 L439.30,331.86 L440.64,331.11 L441.98,330.36 L443.32,329.60 L444.65,328.85 L445.99,328.10 L447.33,327.34 L448.67,326.59 L450.00,325.83 L451.33,325.07 L452.66,324.31 L453.99,323.54 L455.31,322.77 L456.63,322.00 L457.95,321.22 L459.25,320.44 L460.56,319.65 L461.86,318.85 L463.15,318.05 L464.43,317.24 L465.71,316.43 L466.98,315.60 L468.24,314.77 L469.49,313.93 L470.73,313.08 L471.96,312.22 L473.18,311.35 L474.39,310.47 L475.59,309.58 L476.78,308.67 L477.96,307.76 L479.12,306.83 L480.27,305.89 L481.41,304.93 L482.53,303.96 L483.63,302.98 L484.73,301.98 L485.80,300.97 L486.86,299.94 L487.91,298.90 L488.93,297.83 L489.94,296.75 L490.93,295.66 L491.90,294.54 L492.86,293.41 L493.79,292.26 L494.70,291.09 L495.60,289.90 L496.47,288.68 L497.32,287.45 L498.15,286.20 L498.96,284.92 L499.74,283.62 L500.50,282.30 L501.24,280.96 L501.95,279.60 L502.65,278.22 L503.34,276.82 L504.01,275.41 L504.67,274.00 L505.33,272.58 L505.98,271.15 L506.63,269.73 L507.28,268.31 L507.94,266.89 L508.61,265.48 L509.28,264.09 L509.97,262.71 L510.68,261.34 L511.40,260.00 L512.15,258.68 L512.93,257.38 L513.73,256.11 L514.56,254.88 L515.42,253.67 L516.32,252.51 L517.26,251.38 L518.25,250.30" fill="none" stroke="#1010f0" stroke-width="1.8" stroke-linejoin="round" stroke-linecap="round"/>
<path d="M375.50,262.08 L375.48,263.54 L375.46,265.01 L375.44,266.48 L375.43,267.97 L375.43,269.45 L375.43,270.94 L375.44,272.44 L375.46,273.94 L375.48,275.44 L375.52,276.95 L375.56,278.46 L375.61,279.97 L375.67,281.49 L375.74,283.00 L375.82,284.52 L375.91,286.04 L376.01,287.56 L376.12,289.08 L376.25,290.60 L376.39,292.13 L376.54,293.65 L376.70,295.16 L376.88,296.68 L377.07,298.20 L377.27,299.71 L377.49,301.22 L377.73,302.73 L377.98,304.24 L378.25,305.74 L378.53,307.24 L378.83,308.73 L379.15,310.22 L379.49,311.70 L379.84,313.18 L380.22,314.65 L380.61,316.12 L381.02,317.58 L381.45,319.03 L381.91,320.48 L382.38,321.92 L382.88,323.35 L383.39,324.77 L383.93,326.18 L384.49,327.59 L385.08,328.98 L385.68,330.37 L386.32,331.74 L386.97,333.11 L387.65,334.46 L388.36,335.80 L389.09,337.13 L389.85,338.45 L390.63,339.76 L391.44,341.05 L392.27,342.33 L393.13,343.59 L394.02,344.83 L394.93,346.05 L395.86,347.25 L396.82,348.43 L397.81,349.59 L398.82,350.72 L399.85,351.83 L400.91,352.91 L401.99,353.96 L403.10,354.98 L404.23,355.97 L405.38,356.93 L406.55,357.86 L407.75,358.75 L408.97,359.60 L410.21,360.42 L411.48,361.21 L412.77,361.95 L414.07,362.66 L415.40,363.34 L416.74,363.98 L418.10,364.59 L419.48,365.17 L420.87,365.71 L422.27,366.23 L423.69,366.72 L425.12,367.18 L426.56,367.62 L428.01,368.04 L429.47,368.44 L430.94,368.83 L432.41,369.20 L433.88,369.57 L435.36,369.92 L436.84,370.28 L438.32,370.63 L439.80,370.98 L441.27,371.33 L442.75,371.69 L444.22,372.05 L445.69,372.42 L447.15,372.80 L448.61,373.19 L450.06,373.59 L451.51,374.00 L452.95,374.43 L454.39,374.87 L455.82,375.32 L457.25,375.79 L458.66,376.28 L460.07,376.79 L461.47,377.32 L462.87,377.86 L464.26,378.42 L465.64,379.00 L467.02,379.58 L468.39,380.18 L469.76,380.79 L471.13,381.41 L472.50,382.03 L473.86,382.66 L475.23,383.29 L476.59,383.93 L477.95,384.57 L479.31,385.22 L480.68,385.86 L482.04,386.50 L483.41,387.14 L484.77,387.78 L486.14,388.42 L487.51,389.06 L488.88,389.70 L490.25,390.34 L491.62,390.98 L492.99,391.61 L494.36,392.24 L495.74,392.88 L497.12,393.50 L498.50,394.13 L499.87,394.75 L501.26,395.37 L502.64,395.99 L504.02,396.60 L505.41,397.21 L506.80,397.81 L508.19,398.41 L509.58,399.01 L510.98,399.60 L512.37,400.18 L513.77,400.76 L515.17,401.34 L516.57,401.91 L517.98,402.47 L519.38,403.03 L520.79,403.58 L522.20,404.12 L523.62,404.66 L525.03,405.19 L526.45,405.72 L527.87,406.23 L529.29,406.75 L530.72,407.26 L532.14,407.76 L533.57,408.25 L535.00,408.74 L536.44,409.23 L537.87,409.70 L539.31,410.18 L540.74,410.64 L542.18,411.11 L543.62,411.56 L545.07,412.01 L546.51,412.46 L547.96,412.90 L549.41,413.34 L550.85,413.77 L552.31,414.19 L553.76,414.61 L555.21,415.03 L556.67,415.44 L558.12,415.85 L559.58,416.25 L561.04,416.65 L562.50,417.04 L563.96,417.43 L565.42,417.81 L566.88,418.19 L568.35,418.57 L569.81,418.94 L571.28,419.31 L572.74,419.68 L574.21,420.04 L575.68,420.39 L577.15,420.75 L578.62,421.09 L580.09,421.44 L581.56,421.78 L583.03,422.12 L584.51,422.46" fill="none" stroke="#800090" stroke-width="1.8" stroke-linejoin="round" stroke-linecap="round"/>
<path d="M374.58,419.24 L375.00,417.77 L375.45,416.30 L375.91,414.85 L376.40,413.40 L376.91,411.97 L377.43,410.54 L377.98,409.12 L378.55,407.71 L379.14,406.31 L379.75,404.92 L380.38,403.54 L381.03,402.17 L381.69,400.80 L382.38,399.45 L383.08,398.11 L383.81,396.78 L384.55,395.45 L385.30,394.14 L386.08,392.84 L386.87,391.55 L387.68,390.27 L388.51,389.00 L389.35,387.74 L390.21,386.49 L391.09,385.25 L391.98,384.03 L392.89,382.81 L393.81,381.61 L394.75,380.42 L395.70,379.24 L396.67,378.07 L397.65,376.91 L398.65,375.77 L399.66,374.64 L400.68,373.52 L401.71,372.41 L402.76,371.32 L403.83,370.23 L404.90,369.16 L405.99,368.11 L407.09,367.06 L408.20,366.03 L409.32,365.01 L410.45,364.01 L411.60,363.02 L412.75,362.04 L413.92,361.08 L415.10,360.12 L416.28,359.19 L417.48,358.26 L418.69,357.35 L419.91,356.45 L421.14,355.57 L422.38,354.70 L423.62,353.84 L424.88,353.00 L426.15,352.17 L427.42,351.35 L428.71,350.55 L430.00,349.76 L431.31,348.99 L432.62,348.22 L433.94,347.48 L435.26,346.74 L436.60,346.02 L437.94,345.32 L439.29,344.62 L440.65,343.95 L442.02,343.28 L443.39,342.63 L444.77,341.99 L446.16,341.37 L447.55,340.76 L448.95,340.17 L450.36,339.59 L451.77,339.02 L453.19,338.47 L454.62,337.93 L456.05,337.40 L457.48,336.88 L458.92,336.37 L460.35,335.86 L461.79,335.35 L463.23,334.85 L464.67,334.34 L466.10,333.84 L467.53,333.32 L468.96,332.81 L470.38,332.28 L471.80,331.74 L473.21,331.19 L474.61,330.62 L476.01,330.04 L477.39,329.45 L478.77,328.83 L480.14,328.20 L481.50,327.56 L482.85,326.90 L484.20,326.23 L485.54,325.54 L486.86,324.84 L488.19,324.12 L489.50,323.39 L490.81,322.65 L492.11,321.89 L493.40,321.12 L494.69,320.34 L495.97,319.55 L497.24,318.75 L498.51,317.93 L499.77,317.11 L501.03,316.27 L502.28,315.42 L503.52,314.56 L504.76,313.69 L505.99,312.82 L507.22,311.93 L508.44,311.04 L509.65,310.13 L510.86,309.22 L512.07,308.30 L513.27,307.37 L514.47,306.44 L515.66,305.49 L516.85,304.54 L518.03,303.59 L519.21,302.63 L520.39,301.66 L521.56,300.69 L522.73,299.71 L523.90,298.72 L525.06,297.74 L526.22,296.74 L527.37,295.75 L528.53,294.75 L529.68,293.74 L530.82,292.74 L531.97,291.73 L533.11,290.71 L534.25,289.70 L535.39,288.68 L536.53,287.67 L537.66,286.65 L538.79,285.63 L539.92,284.61 L541.05,283.59 L542.18,282.56 L543.31,281.54 L544.43,280.52 L545.56,279.50 L546.68,278.49 L547.81,277.47 L548.93,276.45 L550.06,275.44 L551.18,274.43 L552.30,273.42 L553.42,272.41 L554.55,271.41 L555.67,270.40 L556.79,269.40 L557.91,268.40 L559.03,267.39 L560.15,266.39 L561.27,265.38 L562.39,264.38 L563.51,263.37 L564.63,262.36 L565.75,261.35 L566.87,260.33 L567.99,259.32 L569.10,258.29 L570.22,257.27 L571.33,256.24 L572.45,255.21 L573.56,254.17 L574.68,253.13 L575.79,252.08 L576.90,251.02" fill="none" stroke="#800090" stroke-width="1.8" stroke-linejoin="round" stroke-linecap="round"/>
<path d="M375.50,260.85 L375.48,262.33 L375.47,263.82 L375.46,265.30 L375.45,266.79 L375.46,268.29 L375.47,269.79 L375.48,271.29 L375.50,272.79 L375.53,274.30 L375.57,275.81 L375.62,277.32 L375.67,278.83 L375.73,280.34 L375.81,281.85 L375.89,283.37 L375.98,284.88 L376.09,286.40 L376.20,287.92 L376.33,289.43 L376.47,290.94 L376.62,292.46 L376.78,293.97 L376.96,295.48 L377.15,296.99 L377.35,298.49 L377.57,300.00 L377.81,301.50 L378.05,303.00 L378.32,304.49 L378.60,305.98 L378.89,307.47 L379.21,308.96 L379.54,310.44 L379.88,311.91 L380.25,313.38 L380.63,314.84 L381.04,316.30 L381.46,317.75 L381.90,319.20 L382.36,320.64 L382.84,322.07 L383.34,323.50 L383.87,324.92 L384.41,326.33 L384.98,327.73 L385.57,329.13 L386.18,330.52 L386.81,331.89 L387.47,333.26 L388.16,334.62 L388.86,335.97 L389.59,337.31 L390.35,338.64 L391.13,339.96 L391.94,341.27 L392.77,342.56 L393.63,343.83 L394.51,345.08 L395.41,346.32 L396.34,347.54 L397.30,348.73 L398.27,349.90 L399.28,351.04 L400.30,352.16 L401.35,353.24 L402.43,354.30 L403.53,355.33 L404.65,356.32 L405.80,357.28 L406.97,358.21 L408.16,359.09 L409.38,359.94 L410.62,360.75 L411.88,361.52 L413.16,362.26 L414.46,362.96 L415.79,363.63 L417.12,364.26 L418.48,364.87 L419.85,365.46 L421.23,366.01 L422.63,366.55 L424.04,367.07 L425.46,367.56 L426.89,368.04 L428.33,368.51 L429.77,368.96 L431.22,369.40 L432.67,369.84 L434.13,370.26 L435.59,370.68 L437.05,371.10 L438.51,371.52 L439.98,371.93 L441.43,372.35 L442.89,372.77 L444.34,373.20 L445.79,373.64 L447.23,374.08 L448.67,374.53 L450.11,374.99 L451.54,375.46 L452.96,375.95 L454.38,376.45 L455.79,376.96 L457.19,377.49 L458.59,378.04 L459.97,378.61 L461.35,379.19 L462.73,379.79 L464.10,380.40 L465.46,381.03 L466.82,381.66 L468.17,382.31 L469.52,382.96 L470.87,383.62 L472.22,384.29 L473.56,384.96 L474.91,385.63 L476.26,386.30 L477.61,386.97 L478.96,387.63 L480.31,388.29 L481.66,388.95 L483.02,389.61 L484.38,390.26 L485.75,390.90 L487.11,391.54 L488.48,392.18 L489.85,392.81 L491.22,393.44 L492.60,394.06 L493.98,394.68 L495.36,395.29 L496.74,395.90 L498.13,396.50 L499.51,397.10 L500.90,397.69 L502.30,398.28 L503.69,398.86 L505.09,399.43 L506.49,400.00 L507.89,400.56 L509.30,401.12 L510.71,401.67 L512.12,402.21 L513.53,402.75 L514.95,403.28 L516.36,403.80 L517.78,404.32 L519.21,404.83 L520.63,405.33 L522.06,405.82 L523.49,406.31 L524.92,406.80 L526.36,407.27 L527.80,407.74 L529.24,408.20 L530.68,408.66 L532.12,409.11 L533.57,409.55 L535.01,409.99 L536.46,410.43 L537.91,410.85 L539.37,411.28 L540.82,411.69 L542.28,412.11 L543.73,412.52 L545.19,412.92 L546.65,413.32 L548.11,413.71 L549.57,414.11 L551.03,414.49 L552.50,414.88 L553.96,415.25 L555.43,415.63 L556.89,416.00 L558.36,416.37 L559.83,416.74 L561.30,417.10 L562.77,417.46 L564.23,417.82 L565.70,418.18 L567.17,418.53 L568.64,418.88 L570.11,419.23 L571.58,419.58 L573.05,419.93 L574.52,420.27 L575.99,420.61 L577.46,420.96 L578.93,421.30 L580.40,421.64 L581.87,421.98 L583.33,422.32 L584.80,422.65" fill="none" stroke="#108010" stroke-width="1.8" stroke-linejoin="round" stroke-linecap="round"/>
<path d="M374.52,419.22 L374.94,417.76 L375.38,416.31 L375.83,414.86 L376.30,413.41 L376.78,411.97 L377.28,410.53 L377.79,409.10 L378.32,407.67 L378.86,406.25 L379.42,404.84 L380.00,403.43 L380.59,402.03 L381.20,400.64 L381.83,399.25 L382.47,397.88 L383.13,396.52 L383.81,395.16 L384.51,393.82 L385.23,392.49 L385.96,391.17 L386.72,389.86 L387.49,388.57 L388.28,387.28 L389.10,386.02 L389.93,384.76 L390.78,383.52 L391.66,382.30 L392.55,381.09 L393.47,379.90 L394.40,378.73 L395.36,377.57 L396.34,376.43 L397.34,375.30 L398.35,374.19 L399.39,373.10 L400.43,372.01 L401.50,370.94 L402.57,369.89 L403.66,368.84 L404.76,367.80 L405.87,366.77 L406.99,365.76 L408.12,364.75 L409.25,363.74 L410.40,362.75 L411.55,361.76 L412.70,360.79 L413.87,359.82 L415.04,358.87 L416.22,357.92 L417.41,357.00 L418.61,356.08 L419.82,355.18 L421.04,354.30 L422.27,353.43 L423.51,352.58 L424.76,351.75 L426.02,350.94 L427.29,350.15 L428.57,349.38 L429.87,348.64 L431.18,347.91 L432.50,347.21 L433.83,346.52 L435.17,345.85 L436.52,345.20 L437.88,344.57 L439.24,343.94 L440.62,343.34 L442.00,342.74 L443.39,342.15 L444.78,341.58 L446.18,341.01 L447.58,340.44 L448.99,339.89 L450.40,339.33 L451.82,338.79 L453.23,338.24 L454.65,337.69 L456.08,337.15 L457.50,336.60 L458.92,336.06 L460.34,335.51 L461.77,334.96 L463.19,334.41 L464.61,333.86 L466.04,333.31 L467.46,332.75 L468.87,332.18 L470.29,331.62 L471.70,331.04 L473.11,330.47 L474.52,329.88 L475.92,329.29 L477.32,328.69 L478.71,328.08 L480.10,327.47 L481.49,326.85 L482.86,326.21 L484.23,325.57 L485.60,324.92 L486.95,324.25 L488.30,323.57 L489.65,322.89 L490.98,322.18 L492.30,321.47 L493.62,320.74 L494.92,320.00 L496.22,319.24 L497.51,318.47 L498.78,317.68 L500.04,316.88 L501.30,316.05 L502.54,315.22 L503.77,314.36 L504.98,313.48 L506.18,312.59 L507.37,311.67 L508.55,310.74 L509.71,309.78 L510.86,308.81 L511.99,307.81 L513.11,306.80 L514.22,305.77 L515.32,304.72 L516.41,303.66 L517.49,302.59 L518.56,301.51 L519.63,300.42 L520.69,299.32 L521.75,298.21 L522.80,297.10 L523.85,295.99 L524.90,294.88 L525.95,293.76 L527.01,292.65 L528.06,291.54 L529.12,290.43 L530.18,289.33 L531.24,288.23 L532.31,287.15 L533.39,286.07 L534.48,285.01 L535.57,283.95 L536.68,282.91 L537.78,281.87 L538.90,280.85 L540.02,279.83 L541.15,278.82 L542.28,277.83 L543.42,276.84 L544.57,275.85 L545.72,274.88 L546.87,273.91 L548.03,272.95 L549.20,271.99 L550.37,271.04 L551.55,270.10 L552.73,269.16 L553.91,268.22 L555.10,267.29 L556.29,266.37 L557.48,265.45 L558.68,264.53 L559.88,263.61 L561.08,262.70 L562.29,261.79 L563.49,260.88 L564.70,259.98 L565.91,259.07 L567.13,258.17 L568.34,257.27 L569.56,256.37 L570.77,255.46 L571.99,254.56 L573.21,253.66 L574.42,252.75 L575.64,251.85 L576.86,250.94" fill="none" stroke="#108010" stroke-width="1.8" stroke-linejoin="round" stroke-linecap="round"/>
<text x="389.5" y="271.0" class="fe">Fe<tspan class="sub" dy="3.7">2</tspan><tspan dy="-3.7">O</tspan><tspan class="sub" dy="3.7">3</tspan><tspan dy="-3.7">/SWNT-600</tspan><tspan class="deg" dy="-4.7">o</tspan><tspan dy="4.7">C</tspan></text>
<line x1="572.1" y1="260.7" x2="592.7" y2="260.7" stroke="#000" stroke-width="1.6"/>
<text x="595" y="264.10" class="lg" style="font-size:10.0px">1<tspan class="sup" dy="-5.2">st</tspan></text>
<line x1="572.1" y1="275.9" x2="592.7" y2="275.9" stroke="#f01010" stroke-width="1.6"/>
<text x="595" y="279.30" class="lg" style="font-size:10.0px">5<tspan class="sup" dy="-5.2">th</tspan></text>
<line x1="572.1" y1="290.6" x2="592.7" y2="290.6" stroke="#1010f0" stroke-width="1.6"/>
<text x="595" y="294.00" class="lg" style="font-size:10.0px">10<tspan class="sup" dy="-5.2">th</tspan></text>
<line x1="572.1" y1="305.8" x2="592.7" y2="305.8" stroke="#800090" stroke-width="1.6"/>
<text x="595" y="309.20" class="lg" style="font-size:10.0px">50<tspan class="sup" dy="-5.2">th</tspan></text>
<line x1="572.1" y1="320.2" x2="592.7" y2="320.2" stroke="#108010" stroke-width="1.6"/>
<text x="595" y="323.60" class="lg" style="font-size:10.0px">100<tspan class="sup" dy="-5.2">th</tspan></text>
<text x="321.1" y="251.5" class="pl">(d)</text>
<text x="500" y="463.6" text-anchor="middle" class="at">Capacity (mAh/g)</text>
<text transform="translate(336.7,344.4) rotate(-90)" text-anchor="middle" class="at">Voltage (V)</text>
</svg>
</body></html>
